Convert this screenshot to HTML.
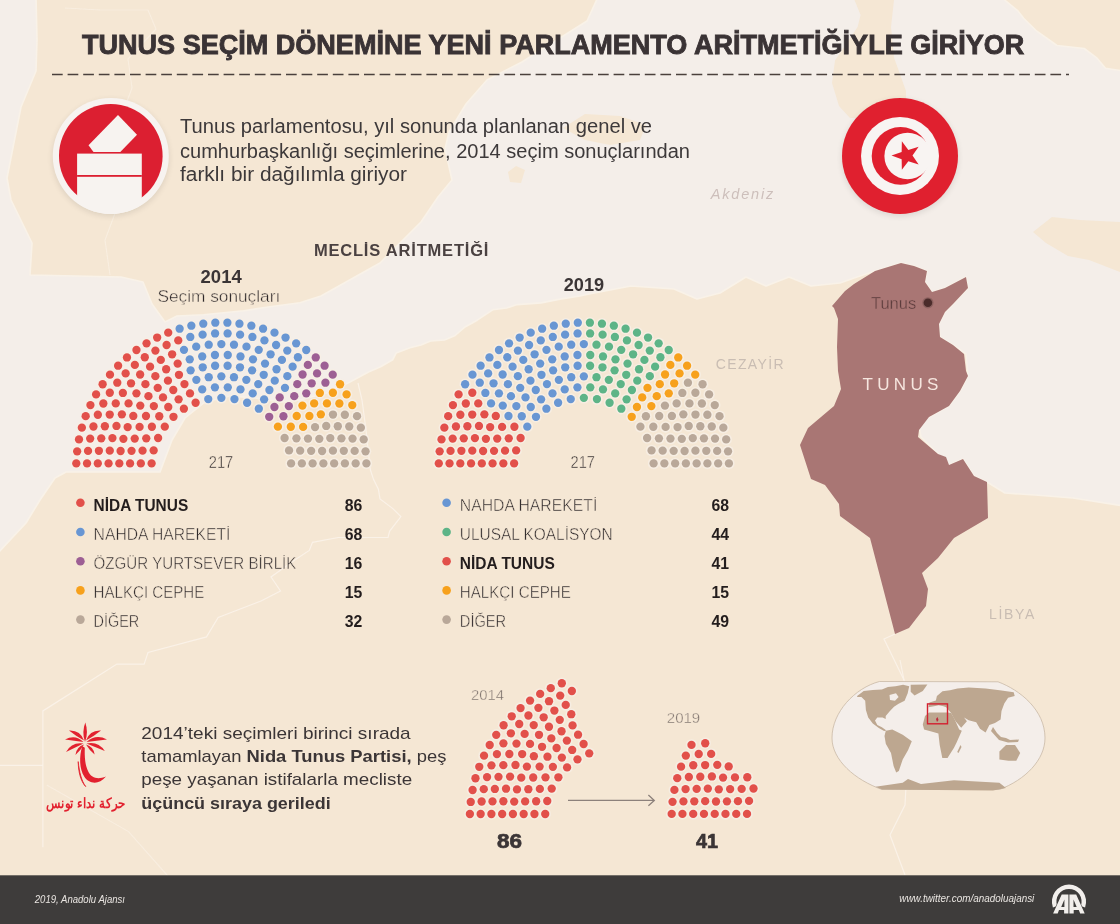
<!DOCTYPE html>
<html><head><meta charset="utf-8"><style>
html,body{margin:0;padding:0;width:1120px;height:924px;overflow:hidden;background:#f5e7d4}
</style></head><body>
<svg width="1120" height="924" viewBox="0 0 1120 924" style="position:absolute;left:0;top:0">
<defs><filter id="sh" x="-30%" y="-30%" width="160%" height="160%"><feGaussianBlur stdDeviation="3"/></filter></defs>
<rect width="1120" height="924" fill="#f5e7d4"/>
<polygon points="165,322 177,316 203.5,314.7 243.7,310.7 270,306.7 300,302.7 321,296 355,277 380,263 421,222 438,197 452,180 445,149 449,132 466,104 487,80 522,62 587,21 598,-3 1001,-3 1017.6,10.6 1023.6,18.2 1035.8,30.3 1057,45.5 1084.2,48.5 1096.4,57.6 1105.5,68.2 1124,71.2 1124,506 1073,498 1035,495 1005,493 987,482 974,476 963,459 949,465 938,454 921,437 918,420 929,417 949,406 960,391 968,376 966,354 953,345 940,337 939,324 945,312 953,304 968,288 966,277 945,288 932,292 925,282 927,271 914,266 901,263 875,271 857,277 840,283 811,286 789,277 766,286 746,277 720,293 697,299 674,289 631,286 589,294 580,296 558.6,299.4 541.2,302.9 517,304.6 506.6,308 492.7,309.8 477.2,320.2 465,327 454.6,335.8 444.5,340 430.6,341 421,345 410,347.7 396.2,352.9 392.7,359.8 380.6,366.8 368.5,372 349.4,382.3 330,392 300,400 280,402 255,398 230,396 205,402 185,418 172,440 160,472 66,472 55,478 40,500 26,523 -4,555 -4,-4 36,-4 37,40 36,71 21,107 7,178 11,200 32,243 30,275 121,277 143,282 152,304" fill="#f4eee9" stroke="#f9f2e8" stroke-width="1.6" stroke-linejoin="round"/>
<polygon points="854.5,0 894,0 891,27 894,57.6 906,91 906,106 880,118 850,118 839,106 832,83 835,60.6 857.6,27 860.6,15" fill="#f5e7d4"/>
<polygon points="1033,232 1052,217 1080,220 1120,222 1120,272 1089,260 1068,256 1046,243" fill="#f5e7d4"/>
<polygon points="563,128 585,114 620,116 646,125 640,140 610,145 585,140" fill="#f5e7d4"/>
<polygon points="508,172 516,166 525,170 521,183 510,182" fill="#f5e7d4"/>
<g fill="none" stroke="#fbf3ea" stroke-width="1.2" opacity="0.9">
<polyline points="358,383 362,400 366,430 370.4,470 373.6,479.6 378.4,489.3 380,498.9 392.9,508.6 400.9,516.6 389.7,531.1 388,537.5 338.2,537.5 312.5,542.3 309.3,550.4 294.8,560 271,577 280.5,591 261,601 218.2,617.4 206.5,636.9 148,652.5 144.1,664.1 116.9,664.1 42.9,710.9 42.9,847.2"/>
<polyline points="46.7,784.9 128.6,831.6 171.4,880" opacity="0.6"/>
<polyline points="0,765.4 42.9,765.4"/>
<polyline points="65,8 100,10 148,10 156,29 128,59 132,88 120,120 140,160 120,200 105,240 110,275" opacity="0.6"/>
<polyline points="900,660 910,710 905,805 890,835 905,875"/>
<polyline points="895,634 884,639 904,680"/>
</g>
<polygon points="832,306 845,291 854,284 875,271 901,263 914,266 927,271 925,282 932,292 945,288 966,277 968,288 953,304 945,312 939,324 940,337 953,345 964,354 966,371 968,376 960,391 949,406 929,417 919,430 918,437 938,454 946,457 949,465 963,459 974,476 987,482 988,518 954,538 938,558 922,573 928,589 926,606 909,628 895,634 870,538 840,516 839,504 825,485 811,479 800,445 808,428 834,406 841,389 838,371 837,347 838,319 834,308" fill="#a97674"/>
<circle cx="927.9" cy="302.8" r="5.6" fill="#8e6361"/><circle cx="927.9" cy="302.8" r="4.3" fill="#4b2c2b"/>
<line x1="52" y1="74.5" x2="1069" y2="74.5" stroke="#4a403c" stroke-width="1.6" stroke-dasharray="10.7 4.9"/>
<circle cx="110.8" cy="158" r="58" fill="#000" opacity="0.10" filter="url(#sh)"/>
<circle cx="110.8" cy="155.9" r="58" fill="#f7f3f0"/>
<circle cx="110.8" cy="155.9" r="51.8" fill="#dc1f31"/>
<clipPath id="cb"><circle cx="110.8" cy="155.9" r="57.9"/></clipPath>
<g clip-path="url(#cb)"><rect x="77.1" y="153.6" width="64.7" height="70" fill="#f7f3f0"/>
<rect x="77.1" y="175" width="64.7" height="1.8" fill="#dc1f31"/></g>
<polygon points="88.5,145.3 118,115 137,134.7 120.3,152.1 93.5,152.1" fill="#f7f3f0"/>
<circle cx="900" cy="158" r="58" fill="#000" opacity="0.10" filter="url(#sh)"/>
<circle cx="900" cy="155.9" r="58" fill="#e0202f"/>
<circle cx="900" cy="155.9" r="39" fill="#f8f4f2"/>
<circle cx="900.5" cy="155.9" r="28.8" fill="#e0202f"/>
<circle cx="907.6" cy="156.0" r="23.2" fill="#f8f4f2"/>
<polygon points="891.5,155.6 901.65,159.13 901.86,169.87 908.35,161.31 918.64,164.42 912.5,155.6 918.64,146.78 908.35,149.89 901.86,141.33 901.65,152.07" fill="#e0202f"/>
<g fill="#f7efe5" opacity="0.85"><circle cx="76.29" cy="463.40" r="5.75"/><circle cx="87.04" cy="463.40" r="5.75"/><circle cx="97.80" cy="463.40" r="5.75"/><circle cx="108.56" cy="463.40" r="5.75"/><circle cx="119.32" cy="463.40" r="5.75"/><circle cx="130.08" cy="463.40" r="5.75"/><circle cx="140.84" cy="463.40" r="5.75"/><circle cx="151.61" cy="463.41" r="5.75"/><circle cx="77.15" cy="451.35" r="5.75"/><circle cx="88.03" cy="450.91" r="5.75"/><circle cx="98.89" cy="450.79" r="5.75"/><circle cx="109.77" cy="450.65" r="5.75"/><circle cx="120.60" cy="450.99" r="5.75"/><circle cx="131.54" cy="450.84" r="5.75"/><circle cx="79.01" cy="439.40" r="5.75"/><circle cx="142.55" cy="450.65" r="5.75"/><circle cx="90.17" cy="438.57" r="5.75"/><circle cx="101.26" cy="438.36" r="5.75"/><circle cx="153.65" cy="450.40" r="5.75"/><circle cx="112.42" cy="438.12" r="5.75"/><circle cx="81.86" cy="427.66" r="5.75"/><circle cx="123.39" cy="438.82" r="5.75"/><circle cx="93.45" cy="426.48" r="5.75"/><circle cx="134.73" cy="438.60" r="5.75"/><circle cx="104.88" cy="426.24" r="5.75"/><circle cx="85.67" cy="416.19" r="5.75"/><circle cx="146.26" cy="438.34" r="5.75"/><circle cx="116.47" cy="425.97" r="5.75"/><circle cx="97.85" cy="414.75" r="5.75"/><circle cx="127.65" cy="427.09" r="5.75"/><circle cx="158.10" cy="438.01" r="5.75"/><circle cx="109.73" cy="414.55" r="5.75"/><circle cx="90.43" cy="405.08" r="5.75"/><circle cx="139.58" cy="426.92" r="5.75"/><circle cx="121.87" cy="414.36" r="5.75"/><circle cx="103.32" cy="403.48" r="5.75"/><circle cx="96.10" cy="394.40" r="5.75"/><circle cx="133.30" cy="415.96" r="5.75"/><circle cx="151.89" cy="426.77" r="5.75"/><circle cx="115.75" cy="403.42" r="5.75"/><circle cx="109.81" cy="392.77" r="5.75"/><circle cx="145.99" cy="416.02" r="5.75"/><circle cx="128.56" cy="403.43" r="5.75"/><circle cx="102.63" cy="384.23" r="5.75"/><circle cx="164.79" cy="426.68" r="5.75"/><circle cx="122.87" cy="392.96" r="5.75"/><circle cx="140.27" cy="405.61" r="5.75"/><circle cx="117.27" cy="382.70" r="5.75"/><circle cx="159.28" cy="416.24" r="5.75"/><circle cx="109.99" cy="374.64" r="5.75"/><circle cx="136.44" cy="393.33" r="5.75"/><circle cx="153.85" cy="406.11" r="5.75"/><circle cx="131.03" cy="383.29" r="5.75"/><circle cx="148.45" cy="396.18" r="5.75"/><circle cx="125.64" cy="373.38" r="5.75"/><circle cx="118.12" cy="365.70" r="5.75"/><circle cx="173.48" cy="416.80" r="5.75"/><circle cx="145.41" cy="384.19" r="5.75"/><circle cx="168.26" cy="407.02" r="5.75"/><circle cx="140.13" cy="374.50" r="5.75"/><circle cx="126.96" cy="357.46" r="5.75"/><circle cx="134.84" cy="364.88" r="5.75"/><circle cx="163.00" cy="397.38" r="5.75"/><circle cx="157.72" cy="387.82" r="5.75"/><circle cx="136.46" cy="349.99" r="5.75"/><circle cx="155.36" cy="376.13" r="5.75"/><circle cx="150.08" cy="366.68" r="5.75"/><circle cx="144.79" cy="357.27" r="5.75"/><circle cx="183.88" cy="408.72" r="5.75"/><circle cx="178.59" cy="399.35" r="5.75"/><circle cx="173.27" cy="390.00" r="5.75"/><circle cx="167.94" cy="380.65" r="5.75"/><circle cx="146.55" cy="343.34" r="5.75"/><circle cx="155.41" cy="350.62" r="5.75"/><circle cx="160.78" cy="359.93" r="5.75"/><circle cx="166.16" cy="369.24" r="5.75"/><circle cx="157.16" cy="337.54" r="5.75"/><circle cx="178.96" cy="374.79" r="5.75"/><circle cx="166.60" cy="344.99" r="5.75"/><circle cx="184.46" cy="384.10" r="5.75"/><circle cx="172.12" cy="354.30" r="5.75"/><circle cx="190.00" cy="393.42" r="5.75"/><circle cx="177.67" cy="363.62" r="5.75"/><circle cx="195.61" cy="402.74" r="5.75"/><circle cx="168.21" cy="332.65" r="5.75"/><circle cx="178.26" cy="340.42" r="5.75"/><circle cx="183.97" cy="349.86" r="5.75"/><circle cx="190.61" cy="370.31" r="5.75"/><circle cx="179.63" cy="328.70" r="5.75"/><circle cx="189.74" cy="359.34" r="5.75"/><circle cx="196.36" cy="379.81" r="5.75"/><circle cx="202.22" cy="389.38" r="5.75"/><circle cx="190.30" cy="336.96" r="5.75"/><circle cx="191.34" cy="325.71" r="5.75"/><circle cx="196.21" cy="346.66" r="5.75"/><circle cx="208.25" cy="399.06" r="5.75"/><circle cx="202.72" cy="367.29" r="5.75"/><circle cx="202.22" cy="356.46" r="5.75"/><circle cx="202.61" cy="334.64" r="5.75"/><circle cx="208.73" cy="377.20" r="5.75"/><circle cx="203.26" cy="323.71" r="5.75"/><circle cx="208.71" cy="344.72" r="5.75"/><circle cx="214.92" cy="387.33" r="5.75"/><circle cx="215.11" cy="365.77" r="5.75"/><circle cx="214.95" cy="355.01" r="5.75"/><circle cx="215.09" cy="333.47" r="5.75"/><circle cx="215.31" cy="322.70" r="5.75"/><circle cx="221.35" cy="344.07" r="5.75"/><circle cx="221.35" cy="376.32" r="5.75"/><circle cx="221.35" cy="397.82" r="5.75"/><circle cx="227.39" cy="322.70" r="5.75"/><circle cx="227.61" cy="333.47" r="5.75"/><circle cx="227.75" cy="355.01" r="5.75"/><circle cx="227.59" cy="365.77" r="5.75"/><circle cx="227.78" cy="387.33" r="5.75"/><circle cx="233.99" cy="344.72" r="5.75"/><circle cx="239.44" cy="323.71" r="5.75"/><circle cx="233.97" cy="377.20" r="5.75"/><circle cx="240.09" cy="334.64" r="5.75"/><circle cx="240.48" cy="356.46" r="5.75"/><circle cx="239.98" cy="367.29" r="5.75"/><circle cx="234.45" cy="399.06" r="5.75"/><circle cx="246.49" cy="346.66" r="5.75"/><circle cx="251.36" cy="325.71" r="5.75"/><circle cx="252.40" cy="336.96" r="5.75"/><circle cx="240.48" cy="389.38" r="5.75"/><circle cx="246.34" cy="379.81" r="5.75"/><circle cx="252.96" cy="359.34" r="5.75"/><circle cx="263.07" cy="328.70" r="5.75"/><circle cx="252.09" cy="370.31" r="5.75"/><circle cx="258.73" cy="349.86" r="5.75"/><circle cx="264.44" cy="340.42" r="5.75"/><circle cx="274.49" cy="332.65" r="5.75"/><circle cx="247.09" cy="402.74" r="5.75"/><circle cx="265.03" cy="363.62" r="5.75"/><circle cx="252.70" cy="393.42" r="5.75"/><circle cx="270.58" cy="354.30" r="5.75"/><circle cx="258.24" cy="384.10" r="5.75"/><circle cx="276.10" cy="344.99" r="5.75"/><circle cx="263.74" cy="374.79" r="5.75"/><circle cx="285.54" cy="337.54" r="5.75"/><circle cx="276.54" cy="369.24" r="5.75"/><circle cx="281.92" cy="359.93" r="5.75"/><circle cx="287.29" cy="350.62" r="5.75"/><circle cx="296.15" cy="343.34" r="5.75"/><circle cx="274.76" cy="380.65" r="5.75"/><circle cx="269.43" cy="390.00" r="5.75"/><circle cx="264.11" cy="399.35" r="5.75"/><circle cx="258.82" cy="408.72" r="5.75"/><circle cx="297.91" cy="357.27" r="5.75"/><circle cx="292.62" cy="366.68" r="5.75"/><circle cx="287.34" cy="376.13" r="5.75"/><circle cx="306.24" cy="349.99" r="5.75"/><circle cx="284.98" cy="387.82" r="5.75"/><circle cx="279.70" cy="397.38" r="5.75"/><circle cx="307.86" cy="364.88" r="5.75"/><circle cx="315.74" cy="357.46" r="5.75"/><circle cx="302.57" cy="374.50" r="5.75"/><circle cx="274.44" cy="407.02" r="5.75"/><circle cx="297.29" cy="384.19" r="5.75"/><circle cx="269.22" cy="416.80" r="5.75"/><circle cx="324.58" cy="365.70" r="5.75"/><circle cx="317.06" cy="373.38" r="5.75"/><circle cx="294.25" cy="396.18" r="5.75"/><circle cx="311.67" cy="383.29" r="5.75"/><circle cx="288.85" cy="406.11" r="5.75"/><circle cx="306.26" cy="393.33" r="5.75"/><circle cx="332.71" cy="374.64" r="5.75"/><circle cx="283.42" cy="416.24" r="5.75"/><circle cx="325.43" cy="382.70" r="5.75"/><circle cx="302.43" cy="405.61" r="5.75"/><circle cx="319.83" cy="392.96" r="5.75"/><circle cx="277.91" cy="426.68" r="5.75"/><circle cx="340.07" cy="384.23" r="5.75"/><circle cx="314.14" cy="403.43" r="5.75"/><circle cx="296.71" cy="416.02" r="5.75"/><circle cx="332.89" cy="392.77" r="5.75"/><circle cx="326.95" cy="403.42" r="5.75"/><circle cx="290.81" cy="426.77" r="5.75"/><circle cx="309.40" cy="415.96" r="5.75"/><circle cx="346.60" cy="394.40" r="5.75"/><circle cx="339.38" cy="403.48" r="5.75"/><circle cx="320.83" cy="414.36" r="5.75"/><circle cx="303.12" cy="426.92" r="5.75"/><circle cx="352.27" cy="405.08" r="5.75"/><circle cx="332.97" cy="414.55" r="5.75"/><circle cx="284.60" cy="438.01" r="5.75"/><circle cx="315.05" cy="427.09" r="5.75"/><circle cx="344.85" cy="414.75" r="5.75"/><circle cx="326.23" cy="425.97" r="5.75"/><circle cx="296.44" cy="438.34" r="5.75"/><circle cx="357.03" cy="416.19" r="5.75"/><circle cx="337.82" cy="426.24" r="5.75"/><circle cx="307.97" cy="438.60" r="5.75"/><circle cx="349.25" cy="426.48" r="5.75"/><circle cx="319.31" cy="438.82" r="5.75"/><circle cx="360.84" cy="427.66" r="5.75"/><circle cx="330.28" cy="438.12" r="5.75"/><circle cx="289.05" cy="450.40" r="5.75"/><circle cx="341.44" cy="438.36" r="5.75"/><circle cx="352.53" cy="438.57" r="5.75"/><circle cx="300.15" cy="450.65" r="5.75"/><circle cx="363.69" cy="439.40" r="5.75"/><circle cx="311.16" cy="450.84" r="5.75"/><circle cx="322.10" cy="450.99" r="5.75"/><circle cx="332.93" cy="450.65" r="5.75"/><circle cx="343.81" cy="450.79" r="5.75"/><circle cx="354.67" cy="450.91" r="5.75"/><circle cx="365.55" cy="451.35" r="5.75"/><circle cx="291.09" cy="463.41" r="5.75"/><circle cx="301.86" cy="463.40" r="5.75"/><circle cx="312.62" cy="463.40" r="5.75"/><circle cx="323.38" cy="463.40" r="5.75"/><circle cx="334.14" cy="463.40" r="5.75"/><circle cx="344.90" cy="463.40" r="5.75"/><circle cx="355.66" cy="463.40" r="5.75"/><circle cx="366.41" cy="463.40" r="5.75"/></g><circle cx="76.29" cy="463.40" r="4.15" fill="#e2504a"/>
<circle cx="87.04" cy="463.40" r="4.15" fill="#e2504a"/>
<circle cx="97.80" cy="463.40" r="4.15" fill="#e2504a"/>
<circle cx="108.56" cy="463.40" r="4.15" fill="#e2504a"/>
<circle cx="119.32" cy="463.40" r="4.15" fill="#e2504a"/>
<circle cx="130.08" cy="463.40" r="4.15" fill="#e2504a"/>
<circle cx="140.84" cy="463.40" r="4.15" fill="#e2504a"/>
<circle cx="151.61" cy="463.41" r="4.15" fill="#e2504a"/>
<circle cx="77.15" cy="451.35" r="4.15" fill="#e2504a"/>
<circle cx="88.03" cy="450.91" r="4.15" fill="#e2504a"/>
<circle cx="98.89" cy="450.79" r="4.15" fill="#e2504a"/>
<circle cx="109.77" cy="450.65" r="4.15" fill="#e2504a"/>
<circle cx="120.60" cy="450.99" r="4.15" fill="#e2504a"/>
<circle cx="131.54" cy="450.84" r="4.15" fill="#e2504a"/>
<circle cx="79.01" cy="439.40" r="4.15" fill="#e2504a"/>
<circle cx="142.55" cy="450.65" r="4.15" fill="#e2504a"/>
<circle cx="90.17" cy="438.57" r="4.15" fill="#e2504a"/>
<circle cx="101.26" cy="438.36" r="4.15" fill="#e2504a"/>
<circle cx="153.65" cy="450.40" r="4.15" fill="#e2504a"/>
<circle cx="112.42" cy="438.12" r="4.15" fill="#e2504a"/>
<circle cx="81.86" cy="427.66" r="4.15" fill="#e2504a"/>
<circle cx="123.39" cy="438.82" r="4.15" fill="#e2504a"/>
<circle cx="93.45" cy="426.48" r="4.15" fill="#e2504a"/>
<circle cx="134.73" cy="438.60" r="4.15" fill="#e2504a"/>
<circle cx="104.88" cy="426.24" r="4.15" fill="#e2504a"/>
<circle cx="85.67" cy="416.19" r="4.15" fill="#e2504a"/>
<circle cx="146.26" cy="438.34" r="4.15" fill="#e2504a"/>
<circle cx="116.47" cy="425.97" r="4.15" fill="#e2504a"/>
<circle cx="97.85" cy="414.75" r="4.15" fill="#e2504a"/>
<circle cx="127.65" cy="427.09" r="4.15" fill="#e2504a"/>
<circle cx="158.10" cy="438.01" r="4.15" fill="#e2504a"/>
<circle cx="109.73" cy="414.55" r="4.15" fill="#e2504a"/>
<circle cx="90.43" cy="405.08" r="4.15" fill="#e2504a"/>
<circle cx="139.58" cy="426.92" r="4.15" fill="#e2504a"/>
<circle cx="121.87" cy="414.36" r="4.15" fill="#e2504a"/>
<circle cx="103.32" cy="403.48" r="4.15" fill="#e2504a"/>
<circle cx="96.10" cy="394.40" r="4.15" fill="#e2504a"/>
<circle cx="133.30" cy="415.96" r="4.15" fill="#e2504a"/>
<circle cx="151.89" cy="426.77" r="4.15" fill="#e2504a"/>
<circle cx="115.75" cy="403.42" r="4.15" fill="#e2504a"/>
<circle cx="109.81" cy="392.77" r="4.15" fill="#e2504a"/>
<circle cx="145.99" cy="416.02" r="4.15" fill="#e2504a"/>
<circle cx="128.56" cy="403.43" r="4.15" fill="#e2504a"/>
<circle cx="102.63" cy="384.23" r="4.15" fill="#e2504a"/>
<circle cx="164.79" cy="426.68" r="4.15" fill="#e2504a"/>
<circle cx="122.87" cy="392.96" r="4.15" fill="#e2504a"/>
<circle cx="140.27" cy="405.61" r="4.15" fill="#e2504a"/>
<circle cx="117.27" cy="382.70" r="4.15" fill="#e2504a"/>
<circle cx="159.28" cy="416.24" r="4.15" fill="#e2504a"/>
<circle cx="109.99" cy="374.64" r="4.15" fill="#e2504a"/>
<circle cx="136.44" cy="393.33" r="4.15" fill="#e2504a"/>
<circle cx="153.85" cy="406.11" r="4.15" fill="#e2504a"/>
<circle cx="131.03" cy="383.29" r="4.15" fill="#e2504a"/>
<circle cx="148.45" cy="396.18" r="4.15" fill="#e2504a"/>
<circle cx="125.64" cy="373.38" r="4.15" fill="#e2504a"/>
<circle cx="118.12" cy="365.70" r="4.15" fill="#e2504a"/>
<circle cx="173.48" cy="416.80" r="4.15" fill="#e2504a"/>
<circle cx="145.41" cy="384.19" r="4.15" fill="#e2504a"/>
<circle cx="168.26" cy="407.02" r="4.15" fill="#e2504a"/>
<circle cx="140.13" cy="374.50" r="4.15" fill="#e2504a"/>
<circle cx="126.96" cy="357.46" r="4.15" fill="#e2504a"/>
<circle cx="134.84" cy="364.88" r="4.15" fill="#e2504a"/>
<circle cx="163.00" cy="397.38" r="4.15" fill="#e2504a"/>
<circle cx="157.72" cy="387.82" r="4.15" fill="#e2504a"/>
<circle cx="136.46" cy="349.99" r="4.15" fill="#e2504a"/>
<circle cx="155.36" cy="376.13" r="4.15" fill="#e2504a"/>
<circle cx="150.08" cy="366.68" r="4.15" fill="#e2504a"/>
<circle cx="144.79" cy="357.27" r="4.15" fill="#e2504a"/>
<circle cx="183.88" cy="408.72" r="4.15" fill="#e2504a"/>
<circle cx="178.59" cy="399.35" r="4.15" fill="#e2504a"/>
<circle cx="173.27" cy="390.00" r="4.15" fill="#e2504a"/>
<circle cx="167.94" cy="380.65" r="4.15" fill="#e2504a"/>
<circle cx="146.55" cy="343.34" r="4.15" fill="#e2504a"/>
<circle cx="155.41" cy="350.62" r="4.15" fill="#e2504a"/>
<circle cx="160.78" cy="359.93" r="4.15" fill="#e2504a"/>
<circle cx="166.16" cy="369.24" r="4.15" fill="#e2504a"/>
<circle cx="157.16" cy="337.54" r="4.15" fill="#e2504a"/>
<circle cx="178.96" cy="374.79" r="4.15" fill="#e2504a"/>
<circle cx="166.60" cy="344.99" r="4.15" fill="#e2504a"/>
<circle cx="184.46" cy="384.10" r="4.15" fill="#e2504a"/>
<circle cx="172.12" cy="354.30" r="4.15" fill="#e2504a"/>
<circle cx="190.00" cy="393.42" r="4.15" fill="#e2504a"/>
<circle cx="177.67" cy="363.62" r="4.15" fill="#e2504a"/>
<circle cx="195.61" cy="402.74" r="4.15" fill="#e2504a"/>
<circle cx="168.21" cy="332.65" r="4.15" fill="#e2504a"/>
<circle cx="178.26" cy="340.42" r="4.15" fill="#e2504a"/>
<circle cx="183.97" cy="349.86" r="4.15" fill="#6896d3"/>
<circle cx="190.61" cy="370.31" r="4.15" fill="#6896d3"/>
<circle cx="179.63" cy="328.70" r="4.15" fill="#6896d3"/>
<circle cx="189.74" cy="359.34" r="4.15" fill="#6896d3"/>
<circle cx="196.36" cy="379.81" r="4.15" fill="#6896d3"/>
<circle cx="202.22" cy="389.38" r="4.15" fill="#6896d3"/>
<circle cx="190.30" cy="336.96" r="4.15" fill="#6896d3"/>
<circle cx="191.34" cy="325.71" r="4.15" fill="#6896d3"/>
<circle cx="196.21" cy="346.66" r="4.15" fill="#6896d3"/>
<circle cx="208.25" cy="399.06" r="4.15" fill="#6896d3"/>
<circle cx="202.72" cy="367.29" r="4.15" fill="#6896d3"/>
<circle cx="202.22" cy="356.46" r="4.15" fill="#6896d3"/>
<circle cx="202.61" cy="334.64" r="4.15" fill="#6896d3"/>
<circle cx="208.73" cy="377.20" r="4.15" fill="#6896d3"/>
<circle cx="203.26" cy="323.71" r="4.15" fill="#6896d3"/>
<circle cx="208.71" cy="344.72" r="4.15" fill="#6896d3"/>
<circle cx="214.92" cy="387.33" r="4.15" fill="#6896d3"/>
<circle cx="215.11" cy="365.77" r="4.15" fill="#6896d3"/>
<circle cx="214.95" cy="355.01" r="4.15" fill="#6896d3"/>
<circle cx="215.09" cy="333.47" r="4.15" fill="#6896d3"/>
<circle cx="215.31" cy="322.70" r="4.15" fill="#6896d3"/>
<circle cx="221.35" cy="344.07" r="4.15" fill="#6896d3"/>
<circle cx="221.35" cy="376.32" r="4.15" fill="#6896d3"/>
<circle cx="221.35" cy="397.82" r="4.15" fill="#6896d3"/>
<circle cx="227.39" cy="322.70" r="4.15" fill="#6896d3"/>
<circle cx="227.61" cy="333.47" r="4.15" fill="#6896d3"/>
<circle cx="227.75" cy="355.01" r="4.15" fill="#6896d3"/>
<circle cx="227.59" cy="365.77" r="4.15" fill="#6896d3"/>
<circle cx="227.78" cy="387.33" r="4.15" fill="#6896d3"/>
<circle cx="233.99" cy="344.72" r="4.15" fill="#6896d3"/>
<circle cx="239.44" cy="323.71" r="4.15" fill="#6896d3"/>
<circle cx="233.97" cy="377.20" r="4.15" fill="#6896d3"/>
<circle cx="240.09" cy="334.64" r="4.15" fill="#6896d3"/>
<circle cx="240.48" cy="356.46" r="4.15" fill="#6896d3"/>
<circle cx="239.98" cy="367.29" r="4.15" fill="#6896d3"/>
<circle cx="234.45" cy="399.06" r="4.15" fill="#6896d3"/>
<circle cx="246.49" cy="346.66" r="4.15" fill="#6896d3"/>
<circle cx="251.36" cy="325.71" r="4.15" fill="#6896d3"/>
<circle cx="252.40" cy="336.96" r="4.15" fill="#6896d3"/>
<circle cx="240.48" cy="389.38" r="4.15" fill="#6896d3"/>
<circle cx="246.34" cy="379.81" r="4.15" fill="#6896d3"/>
<circle cx="252.96" cy="359.34" r="4.15" fill="#6896d3"/>
<circle cx="263.07" cy="328.70" r="4.15" fill="#6896d3"/>
<circle cx="252.09" cy="370.31" r="4.15" fill="#6896d3"/>
<circle cx="258.73" cy="349.86" r="4.15" fill="#6896d3"/>
<circle cx="264.44" cy="340.42" r="4.15" fill="#6896d3"/>
<circle cx="274.49" cy="332.65" r="4.15" fill="#6896d3"/>
<circle cx="247.09" cy="402.74" r="4.15" fill="#6896d3"/>
<circle cx="265.03" cy="363.62" r="4.15" fill="#6896d3"/>
<circle cx="252.70" cy="393.42" r="4.15" fill="#6896d3"/>
<circle cx="270.58" cy="354.30" r="4.15" fill="#6896d3"/>
<circle cx="258.24" cy="384.10" r="4.15" fill="#6896d3"/>
<circle cx="276.10" cy="344.99" r="4.15" fill="#6896d3"/>
<circle cx="263.74" cy="374.79" r="4.15" fill="#6896d3"/>
<circle cx="285.54" cy="337.54" r="4.15" fill="#6896d3"/>
<circle cx="276.54" cy="369.24" r="4.15" fill="#6896d3"/>
<circle cx="281.92" cy="359.93" r="4.15" fill="#6896d3"/>
<circle cx="287.29" cy="350.62" r="4.15" fill="#6896d3"/>
<circle cx="296.15" cy="343.34" r="4.15" fill="#6896d3"/>
<circle cx="274.76" cy="380.65" r="4.15" fill="#6896d3"/>
<circle cx="269.43" cy="390.00" r="4.15" fill="#6896d3"/>
<circle cx="264.11" cy="399.35" r="4.15" fill="#6896d3"/>
<circle cx="258.82" cy="408.72" r="4.15" fill="#6896d3"/>
<circle cx="297.91" cy="357.27" r="4.15" fill="#6896d3"/>
<circle cx="292.62" cy="366.68" r="4.15" fill="#6896d3"/>
<circle cx="287.34" cy="376.13" r="4.15" fill="#6896d3"/>
<circle cx="306.24" cy="349.99" r="4.15" fill="#6896d3"/>
<circle cx="284.98" cy="387.82" r="4.15" fill="#6896d3"/>
<circle cx="279.70" cy="397.38" r="4.15" fill="#9d5f94"/>
<circle cx="307.86" cy="364.88" r="4.15" fill="#9d5f94"/>
<circle cx="315.74" cy="357.46" r="4.15" fill="#9d5f94"/>
<circle cx="302.57" cy="374.50" r="4.15" fill="#9d5f94"/>
<circle cx="274.44" cy="407.02" r="4.15" fill="#9d5f94"/>
<circle cx="297.29" cy="384.19" r="4.15" fill="#9d5f94"/>
<circle cx="269.22" cy="416.80" r="4.15" fill="#9d5f94"/>
<circle cx="324.58" cy="365.70" r="4.15" fill="#9d5f94"/>
<circle cx="317.06" cy="373.38" r="4.15" fill="#9d5f94"/>
<circle cx="294.25" cy="396.18" r="4.15" fill="#9d5f94"/>
<circle cx="311.67" cy="383.29" r="4.15" fill="#9d5f94"/>
<circle cx="288.85" cy="406.11" r="4.15" fill="#9d5f94"/>
<circle cx="306.26" cy="393.33" r="4.15" fill="#9d5f94"/>
<circle cx="332.71" cy="374.64" r="4.15" fill="#9d5f94"/>
<circle cx="283.42" cy="416.24" r="4.15" fill="#9d5f94"/>
<circle cx="325.43" cy="382.70" r="4.15" fill="#9d5f94"/>
<circle cx="302.43" cy="405.61" r="4.15" fill="#f7a11c"/>
<circle cx="319.83" cy="392.96" r="4.15" fill="#f7a11c"/>
<circle cx="277.91" cy="426.68" r="4.15" fill="#f7a11c"/>
<circle cx="340.07" cy="384.23" r="4.15" fill="#f7a11c"/>
<circle cx="314.14" cy="403.43" r="4.15" fill="#f7a11c"/>
<circle cx="296.71" cy="416.02" r="4.15" fill="#f7a11c"/>
<circle cx="332.89" cy="392.77" r="4.15" fill="#f7a11c"/>
<circle cx="326.95" cy="403.42" r="4.15" fill="#f7a11c"/>
<circle cx="290.81" cy="426.77" r="4.15" fill="#f7a11c"/>
<circle cx="309.40" cy="415.96" r="4.15" fill="#f7a11c"/>
<circle cx="346.60" cy="394.40" r="4.15" fill="#f7a11c"/>
<circle cx="339.38" cy="403.48" r="4.15" fill="#f7a11c"/>
<circle cx="320.83" cy="414.36" r="4.15" fill="#f7a11c"/>
<circle cx="303.12" cy="426.92" r="4.15" fill="#f7a11c"/>
<circle cx="352.27" cy="405.08" r="4.15" fill="#f7a11c"/>
<circle cx="332.97" cy="414.55" r="4.15" fill="#b9a899"/>
<circle cx="284.60" cy="438.01" r="4.15" fill="#b9a899"/>
<circle cx="315.05" cy="427.09" r="4.15" fill="#b9a899"/>
<circle cx="344.85" cy="414.75" r="4.15" fill="#b9a899"/>
<circle cx="326.23" cy="425.97" r="4.15" fill="#b9a899"/>
<circle cx="296.44" cy="438.34" r="4.15" fill="#b9a899"/>
<circle cx="357.03" cy="416.19" r="4.15" fill="#b9a899"/>
<circle cx="337.82" cy="426.24" r="4.15" fill="#b9a899"/>
<circle cx="307.97" cy="438.60" r="4.15" fill="#b9a899"/>
<circle cx="349.25" cy="426.48" r="4.15" fill="#b9a899"/>
<circle cx="319.31" cy="438.82" r="4.15" fill="#b9a899"/>
<circle cx="360.84" cy="427.66" r="4.15" fill="#b9a899"/>
<circle cx="330.28" cy="438.12" r="4.15" fill="#b9a899"/>
<circle cx="289.05" cy="450.40" r="4.15" fill="#b9a899"/>
<circle cx="341.44" cy="438.36" r="4.15" fill="#b9a899"/>
<circle cx="352.53" cy="438.57" r="4.15" fill="#b9a899"/>
<circle cx="300.15" cy="450.65" r="4.15" fill="#b9a899"/>
<circle cx="363.69" cy="439.40" r="4.15" fill="#b9a899"/>
<circle cx="311.16" cy="450.84" r="4.15" fill="#b9a899"/>
<circle cx="322.10" cy="450.99" r="4.15" fill="#b9a899"/>
<circle cx="332.93" cy="450.65" r="4.15" fill="#b9a899"/>
<circle cx="343.81" cy="450.79" r="4.15" fill="#b9a899"/>
<circle cx="354.67" cy="450.91" r="4.15" fill="#b9a899"/>
<circle cx="365.55" cy="451.35" r="4.15" fill="#b9a899"/>
<circle cx="291.09" cy="463.41" r="4.15" fill="#b9a899"/>
<circle cx="301.86" cy="463.40" r="4.15" fill="#b9a899"/>
<circle cx="312.62" cy="463.40" r="4.15" fill="#b9a899"/>
<circle cx="323.38" cy="463.40" r="4.15" fill="#b9a899"/>
<circle cx="334.14" cy="463.40" r="4.15" fill="#b9a899"/>
<circle cx="344.90" cy="463.40" r="4.15" fill="#b9a899"/>
<circle cx="355.66" cy="463.40" r="4.15" fill="#b9a899"/>
<circle cx="366.41" cy="463.40" r="4.15" fill="#b9a899"/>
<g fill="#f7efe5" opacity="0.85"><circle cx="438.79" cy="463.40" r="5.75"/><circle cx="449.54" cy="463.40" r="5.75"/><circle cx="460.30" cy="463.40" r="5.75"/><circle cx="471.06" cy="463.40" r="5.75"/><circle cx="481.82" cy="463.40" r="5.75"/><circle cx="492.58" cy="463.40" r="5.75"/><circle cx="503.34" cy="463.40" r="5.75"/><circle cx="514.11" cy="463.41" r="5.75"/><circle cx="439.65" cy="451.35" r="5.75"/><circle cx="450.53" cy="450.91" r="5.75"/><circle cx="461.39" cy="450.79" r="5.75"/><circle cx="472.27" cy="450.65" r="5.75"/><circle cx="483.10" cy="450.99" r="5.75"/><circle cx="494.04" cy="450.84" r="5.75"/><circle cx="441.51" cy="439.40" r="5.75"/><circle cx="505.05" cy="450.65" r="5.75"/><circle cx="452.67" cy="438.57" r="5.75"/><circle cx="463.76" cy="438.36" r="5.75"/><circle cx="516.15" cy="450.40" r="5.75"/><circle cx="474.92" cy="438.12" r="5.75"/><circle cx="444.36" cy="427.66" r="5.75"/><circle cx="485.89" cy="438.82" r="5.75"/><circle cx="455.95" cy="426.48" r="5.75"/><circle cx="497.23" cy="438.60" r="5.75"/><circle cx="467.38" cy="426.24" r="5.75"/><circle cx="448.17" cy="416.19" r="5.75"/><circle cx="508.76" cy="438.34" r="5.75"/><circle cx="478.97" cy="425.97" r="5.75"/><circle cx="460.35" cy="414.75" r="5.75"/><circle cx="490.15" cy="427.09" r="5.75"/><circle cx="520.60" cy="438.01" r="5.75"/><circle cx="472.23" cy="414.55" r="5.75"/><circle cx="452.93" cy="405.08" r="5.75"/><circle cx="502.08" cy="426.92" r="5.75"/><circle cx="484.37" cy="414.36" r="5.75"/><circle cx="465.82" cy="403.48" r="5.75"/><circle cx="458.60" cy="394.40" r="5.75"/><circle cx="495.80" cy="415.96" r="5.75"/><circle cx="514.39" cy="426.77" r="5.75"/><circle cx="478.25" cy="403.42" r="5.75"/><circle cx="472.31" cy="392.77" r="5.75"/><circle cx="508.49" cy="416.02" r="5.75"/><circle cx="491.06" cy="403.43" r="5.75"/><circle cx="465.13" cy="384.23" r="5.75"/><circle cx="527.29" cy="426.68" r="5.75"/><circle cx="485.37" cy="392.96" r="5.75"/><circle cx="502.77" cy="405.61" r="5.75"/><circle cx="479.77" cy="382.70" r="5.75"/><circle cx="521.78" cy="416.24" r="5.75"/><circle cx="472.49" cy="374.64" r="5.75"/><circle cx="498.94" cy="393.33" r="5.75"/><circle cx="516.35" cy="406.11" r="5.75"/><circle cx="493.53" cy="383.29" r="5.75"/><circle cx="510.95" cy="396.18" r="5.75"/><circle cx="488.14" cy="373.38" r="5.75"/><circle cx="480.62" cy="365.70" r="5.75"/><circle cx="535.98" cy="416.80" r="5.75"/><circle cx="507.91" cy="384.19" r="5.75"/><circle cx="530.76" cy="407.02" r="5.75"/><circle cx="502.63" cy="374.50" r="5.75"/><circle cx="489.46" cy="357.46" r="5.75"/><circle cx="497.34" cy="364.88" r="5.75"/><circle cx="525.50" cy="397.38" r="5.75"/><circle cx="520.22" cy="387.82" r="5.75"/><circle cx="498.96" cy="349.99" r="5.75"/><circle cx="517.86" cy="376.13" r="5.75"/><circle cx="512.58" cy="366.68" r="5.75"/><circle cx="507.29" cy="357.27" r="5.75"/><circle cx="546.38" cy="408.72" r="5.75"/><circle cx="541.09" cy="399.35" r="5.75"/><circle cx="535.77" cy="390.00" r="5.75"/><circle cx="530.44" cy="380.65" r="5.75"/><circle cx="509.05" cy="343.34" r="5.75"/><circle cx="517.91" cy="350.62" r="5.75"/><circle cx="523.28" cy="359.93" r="5.75"/><circle cx="528.66" cy="369.24" r="5.75"/><circle cx="519.66" cy="337.54" r="5.75"/><circle cx="541.46" cy="374.79" r="5.75"/><circle cx="529.10" cy="344.99" r="5.75"/><circle cx="546.96" cy="384.10" r="5.75"/><circle cx="534.62" cy="354.30" r="5.75"/><circle cx="552.50" cy="393.42" r="5.75"/><circle cx="540.17" cy="363.62" r="5.75"/><circle cx="558.11" cy="402.74" r="5.75"/><circle cx="530.71" cy="332.65" r="5.75"/><circle cx="540.76" cy="340.42" r="5.75"/><circle cx="546.47" cy="349.86" r="5.75"/><circle cx="553.11" cy="370.31" r="5.75"/><circle cx="542.13" cy="328.70" r="5.75"/><circle cx="552.24" cy="359.34" r="5.75"/><circle cx="558.86" cy="379.81" r="5.75"/><circle cx="564.72" cy="389.38" r="5.75"/><circle cx="552.80" cy="336.96" r="5.75"/><circle cx="553.84" cy="325.71" r="5.75"/><circle cx="558.71" cy="346.66" r="5.75"/><circle cx="570.75" cy="399.06" r="5.75"/><circle cx="565.22" cy="367.29" r="5.75"/><circle cx="564.72" cy="356.46" r="5.75"/><circle cx="565.11" cy="334.64" r="5.75"/><circle cx="571.23" cy="377.20" r="5.75"/><circle cx="565.76" cy="323.71" r="5.75"/><circle cx="571.21" cy="344.72" r="5.75"/><circle cx="577.42" cy="387.33" r="5.75"/><circle cx="577.61" cy="365.77" r="5.75"/><circle cx="577.45" cy="355.01" r="5.75"/><circle cx="577.59" cy="333.47" r="5.75"/><circle cx="577.81" cy="322.70" r="5.75"/><circle cx="583.85" cy="344.07" r="5.75"/><circle cx="583.85" cy="376.32" r="5.75"/><circle cx="583.85" cy="397.82" r="5.75"/><circle cx="589.89" cy="322.70" r="5.75"/><circle cx="590.11" cy="333.47" r="5.75"/><circle cx="590.25" cy="355.01" r="5.75"/><circle cx="590.09" cy="365.77" r="5.75"/><circle cx="590.28" cy="387.33" r="5.75"/><circle cx="596.49" cy="344.72" r="5.75"/><circle cx="601.94" cy="323.71" r="5.75"/><circle cx="596.47" cy="377.20" r="5.75"/><circle cx="602.59" cy="334.64" r="5.75"/><circle cx="602.98" cy="356.46" r="5.75"/><circle cx="602.48" cy="367.29" r="5.75"/><circle cx="596.95" cy="399.06" r="5.75"/><circle cx="608.99" cy="346.66" r="5.75"/><circle cx="613.86" cy="325.71" r="5.75"/><circle cx="614.90" cy="336.96" r="5.75"/><circle cx="602.98" cy="389.38" r="5.75"/><circle cx="608.84" cy="379.81" r="5.75"/><circle cx="615.46" cy="359.34" r="5.75"/><circle cx="625.57" cy="328.70" r="5.75"/><circle cx="614.59" cy="370.31" r="5.75"/><circle cx="621.23" cy="349.86" r="5.75"/><circle cx="626.94" cy="340.42" r="5.75"/><circle cx="636.99" cy="332.65" r="5.75"/><circle cx="609.59" cy="402.74" r="5.75"/><circle cx="627.53" cy="363.62" r="5.75"/><circle cx="615.20" cy="393.42" r="5.75"/><circle cx="633.08" cy="354.30" r="5.75"/><circle cx="620.74" cy="384.10" r="5.75"/><circle cx="638.60" cy="344.99" r="5.75"/><circle cx="626.24" cy="374.79" r="5.75"/><circle cx="648.04" cy="337.54" r="5.75"/><circle cx="639.04" cy="369.24" r="5.75"/><circle cx="644.42" cy="359.93" r="5.75"/><circle cx="649.79" cy="350.62" r="5.75"/><circle cx="658.65" cy="343.34" r="5.75"/><circle cx="637.26" cy="380.65" r="5.75"/><circle cx="631.93" cy="390.00" r="5.75"/><circle cx="626.61" cy="399.35" r="5.75"/><circle cx="621.32" cy="408.72" r="5.75"/><circle cx="660.41" cy="357.27" r="5.75"/><circle cx="655.12" cy="366.68" r="5.75"/><circle cx="649.84" cy="376.13" r="5.75"/><circle cx="668.74" cy="349.99" r="5.75"/><circle cx="647.48" cy="387.82" r="5.75"/><circle cx="642.20" cy="397.38" r="5.75"/><circle cx="670.36" cy="364.88" r="5.75"/><circle cx="678.24" cy="357.46" r="5.75"/><circle cx="665.07" cy="374.50" r="5.75"/><circle cx="636.94" cy="407.02" r="5.75"/><circle cx="659.79" cy="384.19" r="5.75"/><circle cx="631.72" cy="416.80" r="5.75"/><circle cx="687.08" cy="365.70" r="5.75"/><circle cx="679.56" cy="373.38" r="5.75"/><circle cx="656.75" cy="396.18" r="5.75"/><circle cx="674.17" cy="383.29" r="5.75"/><circle cx="651.35" cy="406.11" r="5.75"/><circle cx="668.76" cy="393.33" r="5.75"/><circle cx="695.21" cy="374.64" r="5.75"/><circle cx="645.92" cy="416.24" r="5.75"/><circle cx="687.93" cy="382.70" r="5.75"/><circle cx="664.93" cy="405.61" r="5.75"/><circle cx="682.33" cy="392.96" r="5.75"/><circle cx="640.41" cy="426.68" r="5.75"/><circle cx="702.57" cy="384.23" r="5.75"/><circle cx="676.64" cy="403.43" r="5.75"/><circle cx="659.21" cy="416.02" r="5.75"/><circle cx="695.39" cy="392.77" r="5.75"/><circle cx="689.45" cy="403.42" r="5.75"/><circle cx="653.31" cy="426.77" r="5.75"/><circle cx="671.90" cy="415.96" r="5.75"/><circle cx="709.10" cy="394.40" r="5.75"/><circle cx="701.88" cy="403.48" r="5.75"/><circle cx="683.33" cy="414.36" r="5.75"/><circle cx="665.62" cy="426.92" r="5.75"/><circle cx="714.77" cy="405.08" r="5.75"/><circle cx="695.47" cy="414.55" r="5.75"/><circle cx="647.10" cy="438.01" r="5.75"/><circle cx="677.55" cy="427.09" r="5.75"/><circle cx="707.35" cy="414.75" r="5.75"/><circle cx="688.73" cy="425.97" r="5.75"/><circle cx="658.94" cy="438.34" r="5.75"/><circle cx="719.53" cy="416.19" r="5.75"/><circle cx="700.32" cy="426.24" r="5.75"/><circle cx="670.47" cy="438.60" r="5.75"/><circle cx="711.75" cy="426.48" r="5.75"/><circle cx="681.81" cy="438.82" r="5.75"/><circle cx="723.34" cy="427.66" r="5.75"/><circle cx="692.78" cy="438.12" r="5.75"/><circle cx="651.55" cy="450.40" r="5.75"/><circle cx="703.94" cy="438.36" r="5.75"/><circle cx="715.03" cy="438.57" r="5.75"/><circle cx="662.65" cy="450.65" r="5.75"/><circle cx="726.19" cy="439.40" r="5.75"/><circle cx="673.66" cy="450.84" r="5.75"/><circle cx="684.60" cy="450.99" r="5.75"/><circle cx="695.43" cy="450.65" r="5.75"/><circle cx="706.31" cy="450.79" r="5.75"/><circle cx="717.17" cy="450.91" r="5.75"/><circle cx="728.05" cy="451.35" r="5.75"/><circle cx="653.59" cy="463.41" r="5.75"/><circle cx="664.36" cy="463.40" r="5.75"/><circle cx="675.12" cy="463.40" r="5.75"/><circle cx="685.88" cy="463.40" r="5.75"/><circle cx="696.64" cy="463.40" r="5.75"/><circle cx="707.40" cy="463.40" r="5.75"/><circle cx="718.16" cy="463.40" r="5.75"/><circle cx="728.91" cy="463.40" r="5.75"/></g><circle cx="438.79" cy="463.40" r="4.15" fill="#e2504a"/>
<circle cx="449.54" cy="463.40" r="4.15" fill="#e2504a"/>
<circle cx="460.30" cy="463.40" r="4.15" fill="#e2504a"/>
<circle cx="471.06" cy="463.40" r="4.15" fill="#e2504a"/>
<circle cx="481.82" cy="463.40" r="4.15" fill="#e2504a"/>
<circle cx="492.58" cy="463.40" r="4.15" fill="#e2504a"/>
<circle cx="503.34" cy="463.40" r="4.15" fill="#e2504a"/>
<circle cx="514.11" cy="463.41" r="4.15" fill="#e2504a"/>
<circle cx="439.65" cy="451.35" r="4.15" fill="#e2504a"/>
<circle cx="450.53" cy="450.91" r="4.15" fill="#e2504a"/>
<circle cx="461.39" cy="450.79" r="4.15" fill="#e2504a"/>
<circle cx="472.27" cy="450.65" r="4.15" fill="#e2504a"/>
<circle cx="483.10" cy="450.99" r="4.15" fill="#e2504a"/>
<circle cx="494.04" cy="450.84" r="4.15" fill="#e2504a"/>
<circle cx="441.51" cy="439.40" r="4.15" fill="#e2504a"/>
<circle cx="505.05" cy="450.65" r="4.15" fill="#e2504a"/>
<circle cx="452.67" cy="438.57" r="4.15" fill="#e2504a"/>
<circle cx="463.76" cy="438.36" r="4.15" fill="#e2504a"/>
<circle cx="516.15" cy="450.40" r="4.15" fill="#e2504a"/>
<circle cx="474.92" cy="438.12" r="4.15" fill="#e2504a"/>
<circle cx="444.36" cy="427.66" r="4.15" fill="#e2504a"/>
<circle cx="485.89" cy="438.82" r="4.15" fill="#e2504a"/>
<circle cx="455.95" cy="426.48" r="4.15" fill="#e2504a"/>
<circle cx="497.23" cy="438.60" r="4.15" fill="#e2504a"/>
<circle cx="467.38" cy="426.24" r="4.15" fill="#e2504a"/>
<circle cx="448.17" cy="416.19" r="4.15" fill="#e2504a"/>
<circle cx="508.76" cy="438.34" r="4.15" fill="#e2504a"/>
<circle cx="478.97" cy="425.97" r="4.15" fill="#e2504a"/>
<circle cx="460.35" cy="414.75" r="4.15" fill="#e2504a"/>
<circle cx="490.15" cy="427.09" r="4.15" fill="#e2504a"/>
<circle cx="520.60" cy="438.01" r="4.15" fill="#e2504a"/>
<circle cx="472.23" cy="414.55" r="4.15" fill="#e2504a"/>
<circle cx="452.93" cy="405.08" r="4.15" fill="#e2504a"/>
<circle cx="502.08" cy="426.92" r="4.15" fill="#e2504a"/>
<circle cx="484.37" cy="414.36" r="4.15" fill="#e2504a"/>
<circle cx="465.82" cy="403.48" r="4.15" fill="#e2504a"/>
<circle cx="458.60" cy="394.40" r="4.15" fill="#e2504a"/>
<circle cx="495.80" cy="415.96" r="4.15" fill="#e2504a"/>
<circle cx="514.39" cy="426.77" r="4.15" fill="#e2504a"/>
<circle cx="478.25" cy="403.42" r="4.15" fill="#e2504a"/>
<circle cx="472.31" cy="392.77" r="4.15" fill="#e2504a"/>
<circle cx="508.49" cy="416.02" r="4.15" fill="#6896d3"/>
<circle cx="491.06" cy="403.43" r="4.15" fill="#6896d3"/>
<circle cx="465.13" cy="384.23" r="4.15" fill="#6896d3"/>
<circle cx="527.29" cy="426.68" r="4.15" fill="#6896d3"/>
<circle cx="485.37" cy="392.96" r="4.15" fill="#6896d3"/>
<circle cx="502.77" cy="405.61" r="4.15" fill="#6896d3"/>
<circle cx="479.77" cy="382.70" r="4.15" fill="#6896d3"/>
<circle cx="521.78" cy="416.24" r="4.15" fill="#6896d3"/>
<circle cx="472.49" cy="374.64" r="4.15" fill="#6896d3"/>
<circle cx="498.94" cy="393.33" r="4.15" fill="#6896d3"/>
<circle cx="516.35" cy="406.11" r="4.15" fill="#6896d3"/>
<circle cx="493.53" cy="383.29" r="4.15" fill="#6896d3"/>
<circle cx="510.95" cy="396.18" r="4.15" fill="#6896d3"/>
<circle cx="488.14" cy="373.38" r="4.15" fill="#6896d3"/>
<circle cx="480.62" cy="365.70" r="4.15" fill="#6896d3"/>
<circle cx="535.98" cy="416.80" r="4.15" fill="#6896d3"/>
<circle cx="507.91" cy="384.19" r="4.15" fill="#6896d3"/>
<circle cx="530.76" cy="407.02" r="4.15" fill="#6896d3"/>
<circle cx="502.63" cy="374.50" r="4.15" fill="#6896d3"/>
<circle cx="489.46" cy="357.46" r="4.15" fill="#6896d3"/>
<circle cx="497.34" cy="364.88" r="4.15" fill="#6896d3"/>
<circle cx="525.50" cy="397.38" r="4.15" fill="#6896d3"/>
<circle cx="520.22" cy="387.82" r="4.15" fill="#6896d3"/>
<circle cx="498.96" cy="349.99" r="4.15" fill="#6896d3"/>
<circle cx="517.86" cy="376.13" r="4.15" fill="#6896d3"/>
<circle cx="512.58" cy="366.68" r="4.15" fill="#6896d3"/>
<circle cx="507.29" cy="357.27" r="4.15" fill="#6896d3"/>
<circle cx="546.38" cy="408.72" r="4.15" fill="#6896d3"/>
<circle cx="541.09" cy="399.35" r="4.15" fill="#6896d3"/>
<circle cx="535.77" cy="390.00" r="4.15" fill="#6896d3"/>
<circle cx="530.44" cy="380.65" r="4.15" fill="#6896d3"/>
<circle cx="509.05" cy="343.34" r="4.15" fill="#6896d3"/>
<circle cx="517.91" cy="350.62" r="4.15" fill="#6896d3"/>
<circle cx="523.28" cy="359.93" r="4.15" fill="#6896d3"/>
<circle cx="528.66" cy="369.24" r="4.15" fill="#6896d3"/>
<circle cx="519.66" cy="337.54" r="4.15" fill="#6896d3"/>
<circle cx="541.46" cy="374.79" r="4.15" fill="#6896d3"/>
<circle cx="529.10" cy="344.99" r="4.15" fill="#6896d3"/>
<circle cx="546.96" cy="384.10" r="4.15" fill="#6896d3"/>
<circle cx="534.62" cy="354.30" r="4.15" fill="#6896d3"/>
<circle cx="552.50" cy="393.42" r="4.15" fill="#6896d3"/>
<circle cx="540.17" cy="363.62" r="4.15" fill="#6896d3"/>
<circle cx="558.11" cy="402.74" r="4.15" fill="#6896d3"/>
<circle cx="530.71" cy="332.65" r="4.15" fill="#6896d3"/>
<circle cx="540.76" cy="340.42" r="4.15" fill="#6896d3"/>
<circle cx="546.47" cy="349.86" r="4.15" fill="#6896d3"/>
<circle cx="553.11" cy="370.31" r="4.15" fill="#6896d3"/>
<circle cx="542.13" cy="328.70" r="4.15" fill="#6896d3"/>
<circle cx="552.24" cy="359.34" r="4.15" fill="#6896d3"/>
<circle cx="558.86" cy="379.81" r="4.15" fill="#6896d3"/>
<circle cx="564.72" cy="389.38" r="4.15" fill="#6896d3"/>
<circle cx="552.80" cy="336.96" r="4.15" fill="#6896d3"/>
<circle cx="553.84" cy="325.71" r="4.15" fill="#6896d3"/>
<circle cx="558.71" cy="346.66" r="4.15" fill="#6896d3"/>
<circle cx="570.75" cy="399.06" r="4.15" fill="#6896d3"/>
<circle cx="565.22" cy="367.29" r="4.15" fill="#6896d3"/>
<circle cx="564.72" cy="356.46" r="4.15" fill="#6896d3"/>
<circle cx="565.11" cy="334.64" r="4.15" fill="#6896d3"/>
<circle cx="571.23" cy="377.20" r="4.15" fill="#6896d3"/>
<circle cx="565.76" cy="323.71" r="4.15" fill="#6896d3"/>
<circle cx="571.21" cy="344.72" r="4.15" fill="#6896d3"/>
<circle cx="577.42" cy="387.33" r="4.15" fill="#6896d3"/>
<circle cx="577.61" cy="365.77" r="4.15" fill="#6896d3"/>
<circle cx="577.45" cy="355.01" r="4.15" fill="#6896d3"/>
<circle cx="577.59" cy="333.47" r="4.15" fill="#6896d3"/>
<circle cx="577.81" cy="322.70" r="4.15" fill="#6896d3"/>
<circle cx="583.85" cy="344.07" r="4.15" fill="#6896d3"/>
<circle cx="583.85" cy="376.32" r="4.15" fill="#6896d3"/>
<circle cx="583.85" cy="397.82" r="4.15" fill="#5db487"/>
<circle cx="589.89" cy="322.70" r="4.15" fill="#5db487"/>
<circle cx="590.11" cy="333.47" r="4.15" fill="#5db487"/>
<circle cx="590.25" cy="355.01" r="4.15" fill="#5db487"/>
<circle cx="590.09" cy="365.77" r="4.15" fill="#5db487"/>
<circle cx="590.28" cy="387.33" r="4.15" fill="#5db487"/>
<circle cx="596.49" cy="344.72" r="4.15" fill="#5db487"/>
<circle cx="601.94" cy="323.71" r="4.15" fill="#5db487"/>
<circle cx="596.47" cy="377.20" r="4.15" fill="#5db487"/>
<circle cx="602.59" cy="334.64" r="4.15" fill="#5db487"/>
<circle cx="602.98" cy="356.46" r="4.15" fill="#5db487"/>
<circle cx="602.48" cy="367.29" r="4.15" fill="#5db487"/>
<circle cx="596.95" cy="399.06" r="4.15" fill="#5db487"/>
<circle cx="608.99" cy="346.66" r="4.15" fill="#5db487"/>
<circle cx="613.86" cy="325.71" r="4.15" fill="#5db487"/>
<circle cx="614.90" cy="336.96" r="4.15" fill="#5db487"/>
<circle cx="602.98" cy="389.38" r="4.15" fill="#5db487"/>
<circle cx="608.84" cy="379.81" r="4.15" fill="#5db487"/>
<circle cx="615.46" cy="359.34" r="4.15" fill="#5db487"/>
<circle cx="625.57" cy="328.70" r="4.15" fill="#5db487"/>
<circle cx="614.59" cy="370.31" r="4.15" fill="#5db487"/>
<circle cx="621.23" cy="349.86" r="4.15" fill="#5db487"/>
<circle cx="626.94" cy="340.42" r="4.15" fill="#5db487"/>
<circle cx="636.99" cy="332.65" r="4.15" fill="#5db487"/>
<circle cx="609.59" cy="402.74" r="4.15" fill="#5db487"/>
<circle cx="627.53" cy="363.62" r="4.15" fill="#5db487"/>
<circle cx="615.20" cy="393.42" r="4.15" fill="#5db487"/>
<circle cx="633.08" cy="354.30" r="4.15" fill="#5db487"/>
<circle cx="620.74" cy="384.10" r="4.15" fill="#5db487"/>
<circle cx="638.60" cy="344.99" r="4.15" fill="#5db487"/>
<circle cx="626.24" cy="374.79" r="4.15" fill="#5db487"/>
<circle cx="648.04" cy="337.54" r="4.15" fill="#5db487"/>
<circle cx="639.04" cy="369.24" r="4.15" fill="#5db487"/>
<circle cx="644.42" cy="359.93" r="4.15" fill="#5db487"/>
<circle cx="649.79" cy="350.62" r="4.15" fill="#5db487"/>
<circle cx="658.65" cy="343.34" r="4.15" fill="#5db487"/>
<circle cx="637.26" cy="380.65" r="4.15" fill="#5db487"/>
<circle cx="631.93" cy="390.00" r="4.15" fill="#5db487"/>
<circle cx="626.61" cy="399.35" r="4.15" fill="#5db487"/>
<circle cx="621.32" cy="408.72" r="4.15" fill="#5db487"/>
<circle cx="660.41" cy="357.27" r="4.15" fill="#5db487"/>
<circle cx="655.12" cy="366.68" r="4.15" fill="#5db487"/>
<circle cx="649.84" cy="376.13" r="4.15" fill="#5db487"/>
<circle cx="668.74" cy="349.99" r="4.15" fill="#5db487"/>
<circle cx="647.48" cy="387.82" r="4.15" fill="#f7a11c"/>
<circle cx="642.20" cy="397.38" r="4.15" fill="#f7a11c"/>
<circle cx="670.36" cy="364.88" r="4.15" fill="#f7a11c"/>
<circle cx="678.24" cy="357.46" r="4.15" fill="#f7a11c"/>
<circle cx="665.07" cy="374.50" r="4.15" fill="#f7a11c"/>
<circle cx="636.94" cy="407.02" r="4.15" fill="#f7a11c"/>
<circle cx="659.79" cy="384.19" r="4.15" fill="#f7a11c"/>
<circle cx="631.72" cy="416.80" r="4.15" fill="#f7a11c"/>
<circle cx="687.08" cy="365.70" r="4.15" fill="#f7a11c"/>
<circle cx="679.56" cy="373.38" r="4.15" fill="#f7a11c"/>
<circle cx="656.75" cy="396.18" r="4.15" fill="#f7a11c"/>
<circle cx="674.17" cy="383.29" r="4.15" fill="#f7a11c"/>
<circle cx="651.35" cy="406.11" r="4.15" fill="#f7a11c"/>
<circle cx="668.76" cy="393.33" r="4.15" fill="#f7a11c"/>
<circle cx="695.21" cy="374.64" r="4.15" fill="#f7a11c"/>
<circle cx="645.92" cy="416.24" r="4.15" fill="#b9a899"/>
<circle cx="687.93" cy="382.70" r="4.15" fill="#b9a899"/>
<circle cx="664.93" cy="405.61" r="4.15" fill="#b9a899"/>
<circle cx="682.33" cy="392.96" r="4.15" fill="#b9a899"/>
<circle cx="640.41" cy="426.68" r="4.15" fill="#b9a899"/>
<circle cx="702.57" cy="384.23" r="4.15" fill="#b9a899"/>
<circle cx="676.64" cy="403.43" r="4.15" fill="#b9a899"/>
<circle cx="659.21" cy="416.02" r="4.15" fill="#b9a899"/>
<circle cx="695.39" cy="392.77" r="4.15" fill="#b9a899"/>
<circle cx="689.45" cy="403.42" r="4.15" fill="#b9a899"/>
<circle cx="653.31" cy="426.77" r="4.15" fill="#b9a899"/>
<circle cx="671.90" cy="415.96" r="4.15" fill="#b9a899"/>
<circle cx="709.10" cy="394.40" r="4.15" fill="#b9a899"/>
<circle cx="701.88" cy="403.48" r="4.15" fill="#b9a899"/>
<circle cx="683.33" cy="414.36" r="4.15" fill="#b9a899"/>
<circle cx="665.62" cy="426.92" r="4.15" fill="#b9a899"/>
<circle cx="714.77" cy="405.08" r="4.15" fill="#b9a899"/>
<circle cx="695.47" cy="414.55" r="4.15" fill="#b9a899"/>
<circle cx="647.10" cy="438.01" r="4.15" fill="#b9a899"/>
<circle cx="677.55" cy="427.09" r="4.15" fill="#b9a899"/>
<circle cx="707.35" cy="414.75" r="4.15" fill="#b9a899"/>
<circle cx="688.73" cy="425.97" r="4.15" fill="#b9a899"/>
<circle cx="658.94" cy="438.34" r="4.15" fill="#b9a899"/>
<circle cx="719.53" cy="416.19" r="4.15" fill="#b9a899"/>
<circle cx="700.32" cy="426.24" r="4.15" fill="#b9a899"/>
<circle cx="670.47" cy="438.60" r="4.15" fill="#b9a899"/>
<circle cx="711.75" cy="426.48" r="4.15" fill="#b9a899"/>
<circle cx="681.81" cy="438.82" r="4.15" fill="#b9a899"/>
<circle cx="723.34" cy="427.66" r="4.15" fill="#b9a899"/>
<circle cx="692.78" cy="438.12" r="4.15" fill="#b9a899"/>
<circle cx="651.55" cy="450.40" r="4.15" fill="#b9a899"/>
<circle cx="703.94" cy="438.36" r="4.15" fill="#b9a899"/>
<circle cx="715.03" cy="438.57" r="4.15" fill="#b9a899"/>
<circle cx="662.65" cy="450.65" r="4.15" fill="#b9a899"/>
<circle cx="726.19" cy="439.40" r="4.15" fill="#b9a899"/>
<circle cx="673.66" cy="450.84" r="4.15" fill="#b9a899"/>
<circle cx="684.60" cy="450.99" r="4.15" fill="#b9a899"/>
<circle cx="695.43" cy="450.65" r="4.15" fill="#b9a899"/>
<circle cx="706.31" cy="450.79" r="4.15" fill="#b9a899"/>
<circle cx="717.17" cy="450.91" r="4.15" fill="#b9a899"/>
<circle cx="728.05" cy="451.35" r="4.15" fill="#b9a899"/>
<circle cx="653.59" cy="463.41" r="4.15" fill="#b9a899"/>
<circle cx="664.36" cy="463.40" r="4.15" fill="#b9a899"/>
<circle cx="675.12" cy="463.40" r="4.15" fill="#b9a899"/>
<circle cx="685.88" cy="463.40" r="4.15" fill="#b9a899"/>
<circle cx="696.64" cy="463.40" r="4.15" fill="#b9a899"/>
<circle cx="707.40" cy="463.40" r="4.15" fill="#b9a899"/>
<circle cx="718.16" cy="463.40" r="4.15" fill="#b9a899"/>
<circle cx="728.91" cy="463.40" r="4.15" fill="#b9a899"/>
<g fill="#f7efe5" opacity="0.85"><circle cx="469.89" cy="814.00" r="5.75"/><circle cx="480.64" cy="814.00" r="5.75"/><circle cx="491.40" cy="814.00" r="5.75"/><circle cx="502.16" cy="814.00" r="5.75"/><circle cx="512.92" cy="814.00" r="5.75"/><circle cx="523.68" cy="814.00" r="5.75"/><circle cx="534.44" cy="814.00" r="5.75"/><circle cx="545.21" cy="814.01" r="5.75"/><circle cx="470.75" cy="801.95" r="5.75"/><circle cx="481.63" cy="801.51" r="5.75"/><circle cx="492.49" cy="801.39" r="5.75"/><circle cx="503.37" cy="801.25" r="5.75"/><circle cx="514.20" cy="801.59" r="5.75"/><circle cx="525.14" cy="801.44" r="5.75"/><circle cx="472.61" cy="790.00" r="5.75"/><circle cx="536.15" cy="801.25" r="5.75"/><circle cx="483.77" cy="789.17" r="5.75"/><circle cx="494.86" cy="788.96" r="5.75"/><circle cx="547.25" cy="801.00" r="5.75"/><circle cx="506.02" cy="788.72" r="5.75"/><circle cx="475.46" cy="778.26" r="5.75"/><circle cx="516.99" cy="789.42" r="5.75"/><circle cx="487.05" cy="777.08" r="5.75"/><circle cx="528.33" cy="789.20" r="5.75"/><circle cx="498.48" cy="776.84" r="5.75"/><circle cx="479.27" cy="766.79" r="5.75"/><circle cx="539.86" cy="788.94" r="5.75"/><circle cx="510.07" cy="776.57" r="5.75"/><circle cx="491.45" cy="765.35" r="5.75"/><circle cx="521.25" cy="777.69" r="5.75"/><circle cx="551.70" cy="788.61" r="5.75"/><circle cx="503.33" cy="765.15" r="5.75"/><circle cx="484.03" cy="755.68" r="5.75"/><circle cx="533.18" cy="777.52" r="5.75"/><circle cx="515.47" cy="764.96" r="5.75"/><circle cx="496.92" cy="754.08" r="5.75"/><circle cx="489.70" cy="745.00" r="5.75"/><circle cx="526.90" cy="766.56" r="5.75"/><circle cx="545.49" cy="777.37" r="5.75"/><circle cx="509.35" cy="754.02" r="5.75"/><circle cx="503.41" cy="743.37" r="5.75"/><circle cx="539.59" cy="766.62" r="5.75"/><circle cx="522.16" cy="754.03" r="5.75"/><circle cx="496.23" cy="734.83" r="5.75"/><circle cx="558.39" cy="777.28" r="5.75"/><circle cx="516.47" cy="743.56" r="5.75"/><circle cx="533.87" cy="756.21" r="5.75"/><circle cx="510.87" cy="733.30" r="5.75"/><circle cx="552.88" cy="766.84" r="5.75"/><circle cx="503.59" cy="725.24" r="5.75"/><circle cx="530.04" cy="743.93" r="5.75"/><circle cx="547.45" cy="756.71" r="5.75"/><circle cx="524.63" cy="733.89" r="5.75"/><circle cx="542.05" cy="746.78" r="5.75"/><circle cx="519.24" cy="723.98" r="5.75"/><circle cx="511.72" cy="716.30" r="5.75"/><circle cx="567.08" cy="767.40" r="5.75"/><circle cx="539.01" cy="734.79" r="5.75"/><circle cx="561.86" cy="757.62" r="5.75"/><circle cx="533.73" cy="725.10" r="5.75"/><circle cx="520.56" cy="708.06" r="5.75"/><circle cx="528.44" cy="715.48" r="5.75"/><circle cx="556.60" cy="747.98" r="5.75"/><circle cx="551.32" cy="738.42" r="5.75"/><circle cx="530.06" cy="700.59" r="5.75"/><circle cx="548.96" cy="726.73" r="5.75"/><circle cx="543.68" cy="717.28" r="5.75"/><circle cx="538.39" cy="707.87" r="5.75"/><circle cx="577.48" cy="759.32" r="5.75"/><circle cx="572.19" cy="749.95" r="5.75"/><circle cx="566.87" cy="740.60" r="5.75"/><circle cx="561.54" cy="731.25" r="5.75"/><circle cx="540.15" cy="693.94" r="5.75"/><circle cx="549.01" cy="701.22" r="5.75"/><circle cx="554.38" cy="710.53" r="5.75"/><circle cx="559.76" cy="719.84" r="5.75"/><circle cx="550.76" cy="688.14" r="5.75"/><circle cx="572.56" cy="725.39" r="5.75"/><circle cx="560.20" cy="695.59" r="5.75"/><circle cx="578.06" cy="734.70" r="5.75"/><circle cx="565.72" cy="704.90" r="5.75"/><circle cx="583.60" cy="744.02" r="5.75"/><circle cx="571.27" cy="714.22" r="5.75"/><circle cx="589.21" cy="753.34" r="5.75"/><circle cx="561.81" cy="683.25" r="5.75"/><circle cx="571.86" cy="691.02" r="5.75"/></g><circle cx="469.89" cy="814.00" r="4.15" fill="#e2504a"/>
<circle cx="480.64" cy="814.00" r="4.15" fill="#e2504a"/>
<circle cx="491.40" cy="814.00" r="4.15" fill="#e2504a"/>
<circle cx="502.16" cy="814.00" r="4.15" fill="#e2504a"/>
<circle cx="512.92" cy="814.00" r="4.15" fill="#e2504a"/>
<circle cx="523.68" cy="814.00" r="4.15" fill="#e2504a"/>
<circle cx="534.44" cy="814.00" r="4.15" fill="#e2504a"/>
<circle cx="545.21" cy="814.01" r="4.15" fill="#e2504a"/>
<circle cx="470.75" cy="801.95" r="4.15" fill="#e2504a"/>
<circle cx="481.63" cy="801.51" r="4.15" fill="#e2504a"/>
<circle cx="492.49" cy="801.39" r="4.15" fill="#e2504a"/>
<circle cx="503.37" cy="801.25" r="4.15" fill="#e2504a"/>
<circle cx="514.20" cy="801.59" r="4.15" fill="#e2504a"/>
<circle cx="525.14" cy="801.44" r="4.15" fill="#e2504a"/>
<circle cx="472.61" cy="790.00" r="4.15" fill="#e2504a"/>
<circle cx="536.15" cy="801.25" r="4.15" fill="#e2504a"/>
<circle cx="483.77" cy="789.17" r="4.15" fill="#e2504a"/>
<circle cx="494.86" cy="788.96" r="4.15" fill="#e2504a"/>
<circle cx="547.25" cy="801.00" r="4.15" fill="#e2504a"/>
<circle cx="506.02" cy="788.72" r="4.15" fill="#e2504a"/>
<circle cx="475.46" cy="778.26" r="4.15" fill="#e2504a"/>
<circle cx="516.99" cy="789.42" r="4.15" fill="#e2504a"/>
<circle cx="487.05" cy="777.08" r="4.15" fill="#e2504a"/>
<circle cx="528.33" cy="789.20" r="4.15" fill="#e2504a"/>
<circle cx="498.48" cy="776.84" r="4.15" fill="#e2504a"/>
<circle cx="479.27" cy="766.79" r="4.15" fill="#e2504a"/>
<circle cx="539.86" cy="788.94" r="4.15" fill="#e2504a"/>
<circle cx="510.07" cy="776.57" r="4.15" fill="#e2504a"/>
<circle cx="491.45" cy="765.35" r="4.15" fill="#e2504a"/>
<circle cx="521.25" cy="777.69" r="4.15" fill="#e2504a"/>
<circle cx="551.70" cy="788.61" r="4.15" fill="#e2504a"/>
<circle cx="503.33" cy="765.15" r="4.15" fill="#e2504a"/>
<circle cx="484.03" cy="755.68" r="4.15" fill="#e2504a"/>
<circle cx="533.18" cy="777.52" r="4.15" fill="#e2504a"/>
<circle cx="515.47" cy="764.96" r="4.15" fill="#e2504a"/>
<circle cx="496.92" cy="754.08" r="4.15" fill="#e2504a"/>
<circle cx="489.70" cy="745.00" r="4.15" fill="#e2504a"/>
<circle cx="526.90" cy="766.56" r="4.15" fill="#e2504a"/>
<circle cx="545.49" cy="777.37" r="4.15" fill="#e2504a"/>
<circle cx="509.35" cy="754.02" r="4.15" fill="#e2504a"/>
<circle cx="503.41" cy="743.37" r="4.15" fill="#e2504a"/>
<circle cx="539.59" cy="766.62" r="4.15" fill="#e2504a"/>
<circle cx="522.16" cy="754.03" r="4.15" fill="#e2504a"/>
<circle cx="496.23" cy="734.83" r="4.15" fill="#e2504a"/>
<circle cx="558.39" cy="777.28" r="4.15" fill="#e2504a"/>
<circle cx="516.47" cy="743.56" r="4.15" fill="#e2504a"/>
<circle cx="533.87" cy="756.21" r="4.15" fill="#e2504a"/>
<circle cx="510.87" cy="733.30" r="4.15" fill="#e2504a"/>
<circle cx="552.88" cy="766.84" r="4.15" fill="#e2504a"/>
<circle cx="503.59" cy="725.24" r="4.15" fill="#e2504a"/>
<circle cx="530.04" cy="743.93" r="4.15" fill="#e2504a"/>
<circle cx="547.45" cy="756.71" r="4.15" fill="#e2504a"/>
<circle cx="524.63" cy="733.89" r="4.15" fill="#e2504a"/>
<circle cx="542.05" cy="746.78" r="4.15" fill="#e2504a"/>
<circle cx="519.24" cy="723.98" r="4.15" fill="#e2504a"/>
<circle cx="511.72" cy="716.30" r="4.15" fill="#e2504a"/>
<circle cx="567.08" cy="767.40" r="4.15" fill="#e2504a"/>
<circle cx="539.01" cy="734.79" r="4.15" fill="#e2504a"/>
<circle cx="561.86" cy="757.62" r="4.15" fill="#e2504a"/>
<circle cx="533.73" cy="725.10" r="4.15" fill="#e2504a"/>
<circle cx="520.56" cy="708.06" r="4.15" fill="#e2504a"/>
<circle cx="528.44" cy="715.48" r="4.15" fill="#e2504a"/>
<circle cx="556.60" cy="747.98" r="4.15" fill="#e2504a"/>
<circle cx="551.32" cy="738.42" r="4.15" fill="#e2504a"/>
<circle cx="530.06" cy="700.59" r="4.15" fill="#e2504a"/>
<circle cx="548.96" cy="726.73" r="4.15" fill="#e2504a"/>
<circle cx="543.68" cy="717.28" r="4.15" fill="#e2504a"/>
<circle cx="538.39" cy="707.87" r="4.15" fill="#e2504a"/>
<circle cx="577.48" cy="759.32" r="4.15" fill="#e2504a"/>
<circle cx="572.19" cy="749.95" r="4.15" fill="#e2504a"/>
<circle cx="566.87" cy="740.60" r="4.15" fill="#e2504a"/>
<circle cx="561.54" cy="731.25" r="4.15" fill="#e2504a"/>
<circle cx="540.15" cy="693.94" r="4.15" fill="#e2504a"/>
<circle cx="549.01" cy="701.22" r="4.15" fill="#e2504a"/>
<circle cx="554.38" cy="710.53" r="4.15" fill="#e2504a"/>
<circle cx="559.76" cy="719.84" r="4.15" fill="#e2504a"/>
<circle cx="550.76" cy="688.14" r="4.15" fill="#e2504a"/>
<circle cx="572.56" cy="725.39" r="4.15" fill="#e2504a"/>
<circle cx="560.20" cy="695.59" r="4.15" fill="#e2504a"/>
<circle cx="578.06" cy="734.70" r="4.15" fill="#e2504a"/>
<circle cx="565.72" cy="704.90" r="4.15" fill="#e2504a"/>
<circle cx="583.60" cy="744.02" r="4.15" fill="#e2504a"/>
<circle cx="571.27" cy="714.22" r="4.15" fill="#e2504a"/>
<circle cx="589.21" cy="753.34" r="4.15" fill="#e2504a"/>
<circle cx="561.81" cy="683.25" r="4.15" fill="#e2504a"/>
<circle cx="571.86" cy="691.02" r="4.15" fill="#e2504a"/>
<g fill="#f7efe5" opacity="0.85"><circle cx="671.69" cy="813.90" r="5.75"/><circle cx="682.44" cy="813.90" r="5.75"/><circle cx="693.20" cy="813.90" r="5.75"/><circle cx="703.96" cy="813.90" r="5.75"/><circle cx="714.72" cy="813.90" r="5.75"/><circle cx="725.48" cy="813.90" r="5.75"/><circle cx="736.24" cy="813.90" r="5.75"/><circle cx="747.01" cy="813.91" r="5.75"/><circle cx="672.55" cy="801.85" r="5.75"/><circle cx="683.43" cy="801.41" r="5.75"/><circle cx="694.29" cy="801.29" r="5.75"/><circle cx="705.17" cy="801.15" r="5.75"/><circle cx="716.00" cy="801.49" r="5.75"/><circle cx="726.94" cy="801.34" r="5.75"/><circle cx="674.41" cy="789.90" r="5.75"/><circle cx="737.95" cy="801.15" r="5.75"/><circle cx="685.57" cy="789.07" r="5.75"/><circle cx="696.66" cy="788.86" r="5.75"/><circle cx="749.05" cy="800.90" r="5.75"/><circle cx="707.82" cy="788.62" r="5.75"/><circle cx="677.26" cy="778.16" r="5.75"/><circle cx="718.79" cy="789.32" r="5.75"/><circle cx="688.85" cy="776.98" r="5.75"/><circle cx="730.13" cy="789.10" r="5.75"/><circle cx="700.28" cy="776.74" r="5.75"/><circle cx="681.07" cy="766.69" r="5.75"/><circle cx="741.66" cy="788.84" r="5.75"/><circle cx="711.87" cy="776.47" r="5.75"/><circle cx="693.25" cy="765.25" r="5.75"/><circle cx="723.05" cy="777.59" r="5.75"/><circle cx="753.50" cy="788.51" r="5.75"/><circle cx="705.13" cy="765.05" r="5.75"/><circle cx="685.83" cy="755.58" r="5.75"/><circle cx="734.98" cy="777.42" r="5.75"/><circle cx="717.27" cy="764.86" r="5.75"/><circle cx="698.72" cy="753.98" r="5.75"/><circle cx="691.50" cy="744.90" r="5.75"/><circle cx="728.70" cy="766.46" r="5.75"/><circle cx="747.29" cy="777.27" r="5.75"/><circle cx="711.15" cy="753.92" r="5.75"/><circle cx="705.21" cy="743.27" r="5.75"/></g><circle cx="671.69" cy="813.90" r="4.15" fill="#e2504a"/>
<circle cx="682.44" cy="813.90" r="4.15" fill="#e2504a"/>
<circle cx="693.20" cy="813.90" r="4.15" fill="#e2504a"/>
<circle cx="703.96" cy="813.90" r="4.15" fill="#e2504a"/>
<circle cx="714.72" cy="813.90" r="4.15" fill="#e2504a"/>
<circle cx="725.48" cy="813.90" r="4.15" fill="#e2504a"/>
<circle cx="736.24" cy="813.90" r="4.15" fill="#e2504a"/>
<circle cx="747.01" cy="813.91" r="4.15" fill="#e2504a"/>
<circle cx="672.55" cy="801.85" r="4.15" fill="#e2504a"/>
<circle cx="683.43" cy="801.41" r="4.15" fill="#e2504a"/>
<circle cx="694.29" cy="801.29" r="4.15" fill="#e2504a"/>
<circle cx="705.17" cy="801.15" r="4.15" fill="#e2504a"/>
<circle cx="716.00" cy="801.49" r="4.15" fill="#e2504a"/>
<circle cx="726.94" cy="801.34" r="4.15" fill="#e2504a"/>
<circle cx="674.41" cy="789.90" r="4.15" fill="#e2504a"/>
<circle cx="737.95" cy="801.15" r="4.15" fill="#e2504a"/>
<circle cx="685.57" cy="789.07" r="4.15" fill="#e2504a"/>
<circle cx="696.66" cy="788.86" r="4.15" fill="#e2504a"/>
<circle cx="749.05" cy="800.90" r="4.15" fill="#e2504a"/>
<circle cx="707.82" cy="788.62" r="4.15" fill="#e2504a"/>
<circle cx="677.26" cy="778.16" r="4.15" fill="#e2504a"/>
<circle cx="718.79" cy="789.32" r="4.15" fill="#e2504a"/>
<circle cx="688.85" cy="776.98" r="4.15" fill="#e2504a"/>
<circle cx="730.13" cy="789.10" r="4.15" fill="#e2504a"/>
<circle cx="700.28" cy="776.74" r="4.15" fill="#e2504a"/>
<circle cx="681.07" cy="766.69" r="4.15" fill="#e2504a"/>
<circle cx="741.66" cy="788.84" r="4.15" fill="#e2504a"/>
<circle cx="711.87" cy="776.47" r="4.15" fill="#e2504a"/>
<circle cx="693.25" cy="765.25" r="4.15" fill="#e2504a"/>
<circle cx="723.05" cy="777.59" r="4.15" fill="#e2504a"/>
<circle cx="753.50" cy="788.51" r="4.15" fill="#e2504a"/>
<circle cx="705.13" cy="765.05" r="4.15" fill="#e2504a"/>
<circle cx="685.83" cy="755.58" r="4.15" fill="#e2504a"/>
<circle cx="734.98" cy="777.42" r="4.15" fill="#e2504a"/>
<circle cx="717.27" cy="764.86" r="4.15" fill="#e2504a"/>
<circle cx="698.72" cy="753.98" r="4.15" fill="#e2504a"/>
<circle cx="691.50" cy="744.90" r="4.15" fill="#e2504a"/>
<circle cx="728.70" cy="766.46" r="4.15" fill="#e2504a"/>
<circle cx="747.29" cy="777.27" r="4.15" fill="#e2504a"/>
<circle cx="711.15" cy="753.92" r="4.15" fill="#e2504a"/>
<circle cx="705.21" cy="743.27" r="4.15" fill="#e2504a"/>
<circle cx="80.4" cy="502.8" r="4.3" fill="#e2504a"/>
<circle cx="80.4" cy="532.0" r="4.3" fill="#6896d3"/>
<circle cx="80.4" cy="561.2" r="4.3" fill="#9d5f94"/>
<circle cx="80.4" cy="590.4" r="4.3" fill="#f7a11c"/>
<circle cx="80.4" cy="619.6" r="4.3" fill="#b9a899"/>
<circle cx="446.6" cy="502.8" r="4.3" fill="#6896d3"/>
<circle cx="446.6" cy="532.0" r="4.3" fill="#5db487"/>
<circle cx="446.6" cy="561.2" r="4.3" fill="#e2504a"/>
<circle cx="446.6" cy="590.4" r="4.3" fill="#f7a11c"/>
<circle cx="446.6" cy="619.6" r="4.3" fill="#b9a899"/>
<g stroke="#8c817b" stroke-width="1.3" fill="none"><line x1="568" y1="800.4" x2="654" y2="800.4"/><polyline points="648.4,795 654.3,800.4 648.4,805.8"/></g>
<path d="M879.4,681.5 L998,681.8 C1020,690 1045,710 1045,738 C1045,760 1025,780 999.4,789.5 L882,789.5 C855,780 832,760 832,738 C832,712 855,688 879.4,681.5 Z" fill="#f4eeea" stroke="#c9b9a6" stroke-width="0.8"/>
<polygon points="856.8,696.2 863.7,690.9 872.8,690.1 881.9,689.4 887.9,687.1 895.5,686.3 903.1,684.8 909.2,686.3 907.7,693.2 904.6,700.8 898.6,703.8 894,706.8 889.5,711.4 885.7,715.9 885.7,719 882.6,717.5 877.3,717.5 875,720.5 877.3,725 881.9,727.3 886.4,730.4 884.1,731.1 878.8,728.1 872.8,723.5 868.2,717.5 865.9,709.9 865.2,700.8 861.4,697 857.6,697" fill="#bda790"/>
<polygon points="910.7,684.8 927.4,684.4 922.8,690.9 914.5,695.5 910.7,691.7" fill="#bda790"/>
<polygon points="885.8,730.8 892.3,729.5 902.7,734.7 911.8,741.2 908,750.3 902.7,759.4 898.8,771.1 896.2,772.4 893.6,766 891,753 885.8,743.8 884.5,736" fill="#bda790"/>
<polygon points="936.9,695.9 942.5,691.2 950,690.3 957.5,688.4 968.7,687.5 985.6,688.4 999.7,690.3 1013.7,692.2 1014.7,695.9 1008.1,697.8 1004.3,703.4 1001.5,710.9 1000.6,719.4 995,723.1 989.4,725 985.6,732.5 980,728.7 976.2,722.2 968.7,720.3 964,717.5 966.9,721.2 961.2,727.8 955.6,721.2 950.9,712.8 946.2,707.2 943.4,706.2 938.7,705.3 934,706.2 928.4,707.2 929.4,702.5 935.9,700.6" fill="#bda790"/>
<polygon points="922.8,724.4 925,716 929,712.5 947.5,712.5 951,713 954,717.9 959.2,729.5 961.8,730.8 956.6,742.5 954,747.7 947.5,758.1 942.3,758.1 939.7,745.1 938.4,733.4 933.2,732.1 924.1,729.5" fill="#bda790"/>
<polygon points="960.5,745 961.5,747 958.5,753 957.2,752" fill="#bda790"/>
<polygon points="993,727 997,733 1001,737 1006,738 1010,740 1019,739.5 1018,742 1008,742.5 999,740 991,731" fill="#bda790"/>
<polygon points="999.4,751.6 1006,745 1015,745 1020.2,752.9 1016.3,760.7 1008.5,760.7 999.4,759.4" fill="#bda790"/>
<polygon points="875.5,786.7 902.7,782.8 908,779 921,784 954,780.2 999.4,782.8 1006,788 993,790.6 882,789.5" fill="#bda790"/>
<polygon points="889.5,695 896,693.2 898.6,697 895,700.8 890,700" fill="#f4eeea"/>
<polygon points="936,719 937.5,717 938.5,720 937,722" fill="#c0283a"/>
<rect x="927.5" y="703.9" width="20" height="19.9" fill="none" stroke="#d3202f" stroke-width="1.4"/>
<rect x="0" y="875.3" width="1120" height="48.7" fill="#3e3c3b"/>
<g fill="#f2efec" fill-rule="evenodd" stroke="#3e3c3b" stroke-width="1.1" style="paint-order:stroke"><path stroke="none" d="M1052.9,907.4 A17.1,17.1 0 1 1 1085.1,907.4 L1080.8,905.9 A12.6,12.6 0 1 0 1057.2,905.9 Z"/><path d="M1053.1,913.6 L1061.7,894.6 L1068.5,894.6 L1068.5,913.6 L1064.1,913.6 L1064.1,910.1 L1059.0,910.1 L1057.7,913.6 Z M1064.4,899.4 L1064.4,906.9 L1061.2,906.9 Z"/><path d="M1084.7,913.6 L1076.2,894.6 L1069.4,894.6 L1069.4,913.6 L1073.7,913.6 L1073.7,910.1 L1078.8,910.1 L1080.2,913.6 Z M1073.5,899.4 L1073.5,906.9 L1076.7,906.9 Z"/></g>
<text stroke="#3a3335" stroke-width="0.9" x="82.0" y="53.9" style="font-family:'Liberation Sans',sans-serif;font-size:28.20px;font-weight:bold;font-style:normal" fill="#3a3335" text-anchor="start" textLength="942.4" lengthAdjust="spacingAndGlyphs">TUNUS SEÇİM DÖNEMİNE YENİ PARLAMENTO ARİTMETİĞİYLE GİRİYOR</text>
<text x="180.0" y="132.5" style="font-family:'Liberation Sans',sans-serif;font-size:20.00px;font-weight:normal;font-style:normal" fill="#3d393a" text-anchor="start" textLength="472.0" lengthAdjust="spacingAndGlyphs">Tunus parlamentosu, yıl sonunda planlanan genel ve</text>
<text x="180.0" y="157.5" style="font-family:'Liberation Sans',sans-serif;font-size:20.00px;font-weight:normal;font-style:normal" fill="#3d393a" text-anchor="start" textLength="510.0" lengthAdjust="spacingAndGlyphs">cumhurbaşkanlığı seçimlerine, 2014 seçim sonuçlarından</text>
<text x="180.0" y="181.3" style="font-family:'Liberation Sans',sans-serif;font-size:20.00px;font-weight:normal;font-style:normal" fill="#3d393a" text-anchor="start" textLength="227.0" lengthAdjust="spacingAndGlyphs">farklı bir dağılımla giriyor</text>
<text x="710.7" y="199.2" style="font-family:'Liberation Sans',sans-serif;font-size:14.50px;font-weight:normal;font-style:italic" fill="#cdbfbb" text-anchor="start" textLength="62.5" lengthAdjust="spacing">Akdeniz</text>
<text x="313.9" y="255.7" style="font-family:'Liberation Sans',sans-serif;font-size:16.50px;font-weight:bold;font-style:normal" fill="#4a4141" text-anchor="start" textLength="174.5" lengthAdjust="spacing">MECLİS ARİTMETİĞİ</text>
<text x="200.6" y="282.8" style="font-family:'Liberation Sans',sans-serif;font-size:18.00px;font-weight:bold;font-style:normal" fill="#3b3536" text-anchor="start" textLength="41.1" lengthAdjust="spacingAndGlyphs">2014</text>
<text stroke="#f5e7d4" stroke-width="0.45" x="157.4" y="301.8" style="font-family:'Liberation Sans',sans-serif;font-size:17.30px;font-weight:normal;font-style:normal" fill="#2e2829" text-anchor="start" textLength="122.8" lengthAdjust="spacingAndGlyphs">Seçim sonuçları</text>
<text x="563.7" y="290.6" style="font-family:'Liberation Sans',sans-serif;font-size:18.00px;font-weight:bold;font-style:normal" fill="#3b3536" text-anchor="start" textLength="40.4" lengthAdjust="spacingAndGlyphs">2019</text>
<text stroke="#f5e7d4" stroke-width="0.45" x="208.8" y="468.1" style="font-family:'Liberation Sans',sans-serif;font-size:17.00px;font-weight:normal;font-style:normal" fill="#2e2829" text-anchor="start" textLength="24.4" lengthAdjust="spacingAndGlyphs">217</text>
<text stroke="#f5e7d4" stroke-width="0.45" x="570.5" y="468.1" style="font-family:'Liberation Sans',sans-serif;font-size:17.00px;font-weight:normal;font-style:normal" fill="#2e2829" text-anchor="start" textLength="24.4" lengthAdjust="spacingAndGlyphs">217</text>
<text x="715.7" y="369.2" style="font-family:'Liberation Sans',sans-serif;font-size:14.00px;font-weight:normal;font-style:normal" fill="#c9bdb3" text-anchor="start" textLength="67.9" lengthAdjust="spacing">CEZAYİR</text>
<text x="988.9" y="618.9" style="font-family:'Liberation Sans',sans-serif;font-size:14.00px;font-weight:normal;font-style:normal" fill="#c9bdb3" text-anchor="start" textLength="45.4" lengthAdjust="spacing">LİBYA</text>
<text stroke="#a97674" stroke-width="0.4" x="870.9" y="308.7" style="font-family:'Liberation Sans',sans-serif;font-size:17.00px;font-weight:normal;font-style:normal" fill="#5b3b3b" text-anchor="start" textLength="45.4" lengthAdjust="spacingAndGlyphs">Tunus</text>
<text x="862.5" y="389.6" style="font-family:'Liberation Sans',sans-serif;font-size:17.00px;font-weight:normal;font-style:normal" fill="#f6e6df" text-anchor="start" textLength="75.9" lengthAdjust="spacing">TUNUS</text>
<text x="93.6" y="510.5" style="font-family:'Liberation Sans',sans-serif;font-size:15.60px;font-weight:bold;font-style:normal" fill="#231d1d" text-anchor="start" textLength="94.6" lengthAdjust="spacingAndGlyphs">NİDA TUNUS</text>
<text x="344.8" y="510.5" style="font-family:'Liberation Sans',sans-serif;font-size:15.80px;font-weight:bold;font-style:normal" fill="#231d1d" text-anchor="start">86</text>
<text stroke="#f5e7d4" stroke-width="0.45" x="93.6" y="539.7" style="font-family:'Liberation Sans',sans-serif;font-size:15.60px;font-weight:normal;font-style:normal" fill="#2e2829" text-anchor="start" textLength="136.8" lengthAdjust="spacingAndGlyphs">NAHDA HAREKETİ</text>
<text x="344.8" y="539.7" style="font-family:'Liberation Sans',sans-serif;font-size:15.80px;font-weight:bold;font-style:normal" fill="#231d1d" text-anchor="start">68</text>
<text stroke="#f5e7d4" stroke-width="0.45" x="93.6" y="568.9" style="font-family:'Liberation Sans',sans-serif;font-size:15.60px;font-weight:normal;font-style:normal" fill="#2e2829" text-anchor="start" textLength="202.8" lengthAdjust="spacingAndGlyphs">ÖZGÜR YURTSEVER BİRLİK</text>
<text x="344.8" y="568.9" style="font-family:'Liberation Sans',sans-serif;font-size:15.80px;font-weight:bold;font-style:normal" fill="#231d1d" text-anchor="start">16</text>
<text stroke="#f5e7d4" stroke-width="0.45" x="93.6" y="598.1" style="font-family:'Liberation Sans',sans-serif;font-size:15.60px;font-weight:normal;font-style:normal" fill="#2e2829" text-anchor="start" textLength="110.7" lengthAdjust="spacingAndGlyphs">HALKÇI CEPHE</text>
<text x="344.8" y="598.1" style="font-family:'Liberation Sans',sans-serif;font-size:15.80px;font-weight:bold;font-style:normal" fill="#231d1d" text-anchor="start">15</text>
<text stroke="#f5e7d4" stroke-width="0.45" x="93.6" y="627.3" style="font-family:'Liberation Sans',sans-serif;font-size:15.60px;font-weight:normal;font-style:normal" fill="#2e2829" text-anchor="start" textLength="45.7" lengthAdjust="spacingAndGlyphs">DİĞER</text>
<text x="344.8" y="627.3" style="font-family:'Liberation Sans',sans-serif;font-size:15.80px;font-weight:bold;font-style:normal" fill="#231d1d" text-anchor="start">32</text>
<text stroke="#f5e7d4" stroke-width="0.45" x="459.8" y="510.5" style="font-family:'Liberation Sans',sans-serif;font-size:15.60px;font-weight:normal;font-style:normal" fill="#2e2829" text-anchor="start" textLength="137.5" lengthAdjust="spacingAndGlyphs">NAHDA HAREKETİ</text>
<text x="711.5" y="510.5" style="font-family:'Liberation Sans',sans-serif;font-size:15.80px;font-weight:bold;font-style:normal" fill="#231d1d" text-anchor="start">68</text>
<text stroke="#f5e7d4" stroke-width="0.45" x="459.8" y="539.7" style="font-family:'Liberation Sans',sans-serif;font-size:15.60px;font-weight:normal;font-style:normal" fill="#2e2829" text-anchor="start" textLength="152.9" lengthAdjust="spacingAndGlyphs">ULUSAL KOALİSYON</text>
<text x="711.5" y="539.7" style="font-family:'Liberation Sans',sans-serif;font-size:15.80px;font-weight:bold;font-style:normal" fill="#231d1d" text-anchor="start">44</text>
<text x="459.8" y="568.9" style="font-family:'Liberation Sans',sans-serif;font-size:15.60px;font-weight:bold;font-style:normal" fill="#231d1d" text-anchor="start" textLength="95.0" lengthAdjust="spacingAndGlyphs">NİDA TUNUS</text>
<text x="711.5" y="568.9" style="font-family:'Liberation Sans',sans-serif;font-size:15.80px;font-weight:bold;font-style:normal" fill="#231d1d" text-anchor="start">41</text>
<text stroke="#f5e7d4" stroke-width="0.45" x="459.8" y="598.1" style="font-family:'Liberation Sans',sans-serif;font-size:15.60px;font-weight:normal;font-style:normal" fill="#2e2829" text-anchor="start" textLength="111.1" lengthAdjust="spacingAndGlyphs">HALKÇI CEPHE</text>
<text x="711.5" y="598.1" style="font-family:'Liberation Sans',sans-serif;font-size:15.80px;font-weight:bold;font-style:normal" fill="#231d1d" text-anchor="start">15</text>
<text stroke="#f5e7d4" stroke-width="0.45" x="459.8" y="627.3" style="font-family:'Liberation Sans',sans-serif;font-size:15.60px;font-weight:normal;font-style:normal" fill="#2e2829" text-anchor="start" textLength="46.4" lengthAdjust="spacingAndGlyphs">DİĞER</text>
<text x="711.5" y="627.3" style="font-family:'Liberation Sans',sans-serif;font-size:15.80px;font-weight:bold;font-style:normal" fill="#231d1d" text-anchor="start">49</text>
<text stroke="#f5e7d4" stroke-width="0.4" x="471.0" y="699.8" style="font-family:'Liberation Sans',sans-serif;font-size:15.50px;font-weight:normal;font-style:normal" fill="#7a6f6a" text-anchor="start" textLength="33.0" lengthAdjust="spacingAndGlyphs">2014</text>
<text stroke="#f5e7d4" stroke-width="0.4" x="666.8" y="722.9" style="font-family:'Liberation Sans',sans-serif;font-size:15.50px;font-weight:normal;font-style:normal" fill="#7a6f6a" text-anchor="start" textLength="33.4" lengthAdjust="spacingAndGlyphs">2019</text>
<text stroke="#3b3536" stroke-width="0.7" x="497.0" y="847.9" style="font-family:'Liberation Sans',sans-serif;font-size:20.50px;font-weight:bold;font-style:normal" fill="#3b3536" text-anchor="start" textLength="25.0" lengthAdjust="spacingAndGlyphs">86</text>
<text stroke="#3b3536" stroke-width="0.7" x="696.0" y="847.9" style="font-family:'Liberation Sans',sans-serif;font-size:20.50px;font-weight:bold;font-style:normal" fill="#3b3536" text-anchor="start" textLength="22.0" lengthAdjust="spacingAndGlyphs">41</text>
<g style="font-family:'Liberation Sans',sans-serif;font-size:17px" fill="#3b3536">
<text x="141.3" y="739.3" textLength="269.4" lengthAdjust="spacingAndGlyphs">2014’teki seçimleri birinci sırada</text>
<text x="141.3" y="762.1" textLength="305.1" lengthAdjust="spacingAndGlyphs">tamamlayan <tspan font-weight="bold">Nida Tunus Partisi,</tspan> peş</text>
<text x="141.3" y="785" textLength="270.8" lengthAdjust="spacingAndGlyphs">peşe yaşanan istifalarla mecliste</text>
<text x="141.3" y="808.7" textLength="189.4" lengthAdjust="spacingAndGlyphs" font-weight="bold">üçüncü sıraya geriledi</text>
</g>
<g fill="#e2212f">
<path d="M85.00,742.00 Q88.75,732.31 85.30,722.50 Q81.55,732.19 85.00,742.00 Z"/>
<path d="M84.00,740.50 Q80.27,729.84 69.00,730.50 Q76.06,736.17 84.00,740.50 Z"/>
<path d="M86.00,740.50 Q93.94,736.17 101.00,730.50 Q89.73,729.84 86.00,740.50 Z"/>
<path d="M83.50,742.00 Q75.18,733.66 65.00,739.60 Q74.25,740.80 83.50,742.00 Z"/>
<path d="M86.50,742.00 Q96.75,740.80 107.00,739.60 Q95.91,733.65 86.50,742.00 Z"/>
<path d="M83.50,743.50 Q71.78,741.63 66.00,752.00 Q74.75,747.75 83.50,743.50 Z"/>
<path d="M86.50,743.50 Q95.65,747.25 104.80,751.00 Q98.23,740.96 86.50,743.50 Z"/>
<path d="M84.00,744.50 Q76.30,746.96 75.40,755.00 Q80.63,750.51 84.00,744.50 Z"/>
<path d="M86.00,744.50 Q89.39,750.28 94.60,754.50 Q93.64,746.63 86.00,744.50 Z"/>
<path d="M82.2,746.0 C79.0,757 79.5,769 84.2,776.5 C89,784 98.5,785.5 106,776.6 C97,780 91.5,777.5 88.6,772.2 C85.0,765.5 84.5,757 84.8,747.8 Z"/>
<path d="M78.2,761.6 C78.4,772 80.5,781 85.7,786.6 C81.5,781 79.3,772 78.2,761.6 Z" stroke="#e2212f" stroke-width="0.8"/>
</g>
<text x="86" y="808" text-anchor="middle" style="font-family:'Liberation Sans',sans-serif;font-size:14px;font-weight:bold" fill="#e2212f" textLength="80" lengthAdjust="spacingAndGlyphs">حركة نداء تونس</text>
<text x="34.8" y="902.9" style="font-family:'Liberation Sans',sans-serif;font-size:11.00px;font-weight:normal;font-style:italic" fill="#e9e5e1" text-anchor="start" textLength="90.2" lengthAdjust="spacingAndGlyphs">2019, Anadolu Ajansı</text>
<text x="899.3" y="902.4" style="font-family:'Liberation Sans',sans-serif;font-size:11.50px;font-weight:normal;font-style:italic" fill="#e9e5e1" text-anchor="start" textLength="135.0" lengthAdjust="spacingAndGlyphs">www.twitter.com/anadoluajansi</text>
</svg>
</body></html>
